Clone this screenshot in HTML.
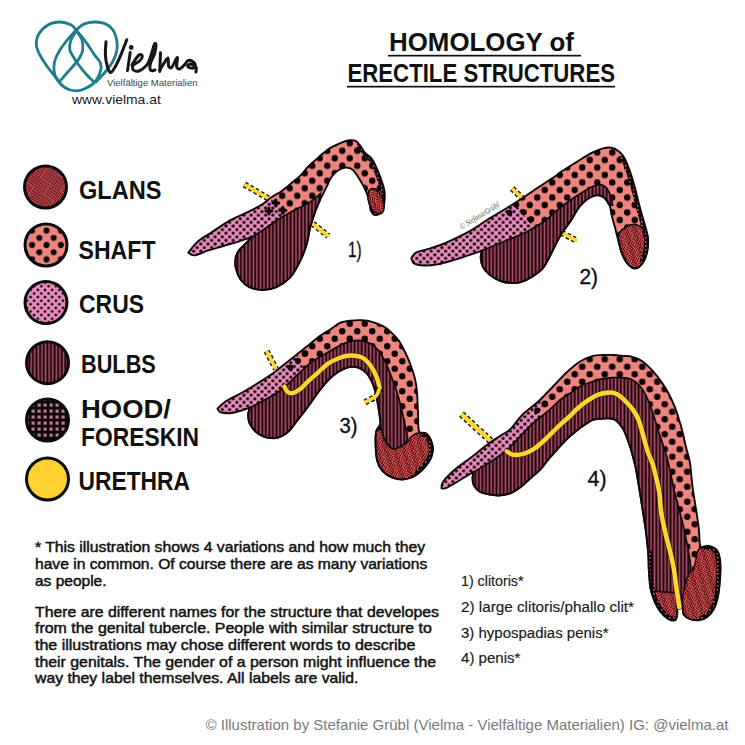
<!DOCTYPE html>
<html><head><meta charset="utf-8"><style>
html,body{margin:0;padding:0;background:#fff;overflow:hidden;}
svg{display:block;}
text{font-family:"Liberation Sans", sans-serif;}
</style></head><body>
<svg width="745" height="745" viewBox="0 0 745 745">
<rect width="745" height="745" fill="#fff"/>

<defs>
 <pattern id="pShaftL1" patternUnits="userSpaceOnUse" width="15" height="15" x="1" y="4.5">
  <rect width="15" height="15" fill="#ec8580"/>
  <circle cx="3.75" cy="3.75" r="3.2" fill="#0d0000"/>
  <circle cx="11.25" cy="11.25" r="3.2" fill="#0d0000"/>
 </pattern>
 <pattern id="pShaftL2" patternUnits="userSpaceOnUse" width="15" height="15" x="1" y="6.25">
  <rect width="15" height="15" fill="#ec8580"/>
  <circle cx="3.75" cy="3.75" r="3.2" fill="#0d0000"/>
  <circle cx="11.25" cy="11.25" r="3.2" fill="#0d0000"/>
 </pattern>
 <pattern id="pShaftL3" patternUnits="userSpaceOnUse" width="15" height="15" x="1" y="5">
  <rect width="15" height="15" fill="#ec8580"/>
  <circle cx="3.75" cy="3.75" r="3.2" fill="#0d0000"/>
  <circle cx="11.25" cy="11.25" r="3.2" fill="#0d0000"/>
 </pattern>
 <pattern id="pShaftL4" patternUnits="userSpaceOnUse" width="15" height="15" x="8.5" y="3">
  <rect width="15" height="15" fill="#ec8580"/>
  <circle cx="3.75" cy="3.75" r="3.2" fill="#0d0000"/>
  <circle cx="11.25" cy="11.25" r="3.2" fill="#0d0000"/>
 </pattern>

 <pattern id="pCrusL" patternUnits="userSpaceOnUse" width="7.2" height="7.2" x="1" y="1">
  <rect width="7.2" height="7.2" fill="#e68cc0"/>
  <circle cx="1.8" cy="1.8" r="1.65" fill="#120004"/>
  <circle cx="5.4" cy="5.4" r="1.65" fill="#120004"/>
 </pattern>
 <pattern id="pBulbL" patternUnits="userSpaceOnUse" width="3.55" height="10">
  <rect width="3.55" height="10" fill="#0e0206"/>
  <rect x="0.5" width="1.7" height="10" fill="#b34c66"/>
 </pattern>
 <pattern id="pHoodL" patternUnits="userSpaceOnUse" width="4" height="4">
  <rect width="4" height="4" fill="#140406"/>
  <rect x="1" y="1" width="1.6" height="1.6" fill="#9a7080"/>
 </pattern>
 <pattern id="pGlansL" patternUnits="userSpaceOnUse" width="12" height="12" patternTransform="rotate(30)">
  <rect width="12" height="12" fill="#e2565b"/>
  <g stroke="#3c0608" stroke-width="0.9">
   <path d="M0,0.5 H6 M0,2.5 H6 M0,4.5 H6"/>
   <path d="M6.5,0 V6 M8.5,0 V6 M10.5,0 V6"/>
   <path d="M0.5,6 V12 M2.5,6 V12 M4.5,6 V12"/>
   <path d="M6,6.5 H12 M6,8.5 H12 M6,10.5 H12"/>
  </g>
 </pattern>
 <pattern id="pShaft" patternUnits="userSpaceOnUse" width="14.4" height="14.4" x="-0.3" y="11">
  <rect width="14.4" height="14.4" fill="#ec8580"/>
  <circle cx="3.6" cy="3.6" r="3.0" fill="#0d0000"/>
  <circle cx="10.8" cy="10.8" r="3.0" fill="#0d0000"/>
 </pattern>
 <pattern id="pCrus" patternUnits="userSpaceOnUse" width="7.2" height="7.2">
  <rect width="7.2" height="7.2" fill="#e68cc0"/>
  <circle cx="1.8" cy="1.8" r="1.4" fill="#120004"/>
  <circle cx="5.4" cy="5.4" r="1.4" fill="#120004"/>
 </pattern>
 <pattern id="pBulb" patternUnits="userSpaceOnUse" width="3.6" height="10" x="1">
  <rect width="3.6" height="10" fill="#0e0206"/>
  <rect x="0.5" width="1.7" height="10" fill="#b34c66"/>
 </pattern>
 <pattern id="pHood" patternUnits="userSpaceOnUse" width="6" height="6">
  <rect width="6" height="6" fill="#140406"/>
  <rect x="1.5" y="1.5" width="3.2" height="3.2" fill="#a9808c"/>
 </pattern>
 <pattern id="pGlans" patternUnits="userSpaceOnUse" width="24" height="24" patternTransform="rotate(35) translate(3 2)">
  <rect width="24" height="24" fill="#e0535a"/>
  <g stroke="#2e0508" stroke-width="1.0" fill="none">
   <path d="M0.0,1.15 H12.0 M0.0,3.45 H12.0 M0.0,5.75 H12.0 M0.0,8.05 H12.0 M0.0,10.35 H12.0"/>
   <path d="M13.15,0.0 V12.0 M15.45,0.0 V12.0 M17.75,0.0 V12.0 M20.05,0.0 V12.0 M22.35,0.0 V12.0"/>
   <path d="M1.15,12.0 V24.0 M3.45,12.0 V24.0 M5.75,12.0 V24.0 M8.05,12.0 V24.0 M10.35,12.0 V24.0"/>
   <path d="M12.0,13.15 H24.0 M12.0,15.45 H24.0 M12.0,17.75 H24.0 M12.0,20.05 H24.0 M12.0,22.35 H24.0"/>
  </g>
 </pattern>
</defs>
<path d="M244.4,184.5 C249.0,187.2 267.4,197.8 272.0,200.5" stroke="#111" stroke-width="6.2" fill="none" stroke-dasharray="3.5 2.5"/>
<path d="M244.4,184.5 C249.0,187.2 267.4,197.8 272.0,200.5" stroke="#fcd530" stroke-width="3.6" fill="none"/>
<path d="M308.0,220.0 C311.4,222.7 324.9,233.3 328.3,236.0" stroke="#111" stroke-width="6.2" fill="none" stroke-dasharray="3.5 2.5"/>
<path d="M308.0,220.0 C311.4,222.7 324.9,233.3 328.3,236.0" stroke="#fcd530" stroke-width="3.6" fill="none"/>
<clipPath id="clip1"><path d="M188.3,252.6 C190.0,250.7 194.2,244.8 198.2,241.3 C202.2,237.9 207.0,235.4 212.3,231.9 C217.6,228.4 224.4,223.6 230.0,220.4 C235.6,217.2 240.7,215.6 246.1,212.9 C251.5,210.2 258.1,206.8 262.2,204.3 C266.3,201.8 267.5,199.9 270.7,197.7 C273.9,195.5 277.9,193.7 281.5,191.2 C285.1,188.7 289.0,185.3 292.2,182.6 C295.4,179.9 298.1,177.8 300.8,175.1 C303.5,172.4 305.2,169.6 308.3,166.5 C311.4,163.4 315.5,159.9 319.1,156.8 C322.7,153.7 326.6,150.3 330.0,148.1 C333.4,145.8 336.5,144.6 339.7,143.3 C342.9,142.0 346.7,140.7 349.3,140.3 C351.9,139.9 353.6,140.0 355.4,140.9 C357.2,141.8 358.6,143.7 360.2,145.7 C361.8,147.7 363.3,151.0 365.1,153.0 C366.9,155.0 369.3,155.6 371.1,157.8 C372.9,160.0 374.3,162.9 375.9,166.3 C377.5,169.7 379.4,174.4 380.8,178.4 C382.2,182.4 383.8,186.9 384.4,190.5 C385.0,194.1 384.8,197.1 384.6,200.0 C384.4,202.9 384.1,205.7 383.2,208.0 C382.3,210.3 380.5,212.9 379.0,214.0 C377.5,215.1 375.4,215.3 374.0,214.6 C372.6,213.9 371.2,211.6 370.5,210.0 C369.8,208.4 370.4,207.4 369.9,205.0 C369.4,202.6 368.5,198.3 367.5,195.3 C366.5,192.3 365.3,189.6 363.9,186.8 C362.5,184.0 360.8,181.2 359.0,178.4 C357.2,175.6 355.2,171.7 353.0,169.9 C350.8,168.1 348.2,167.4 345.7,167.5 C343.2,167.6 340.4,168.9 338.0,170.5 C335.6,172.1 333.4,174.3 331.5,177.0 C329.6,179.7 328.5,183.1 326.6,186.9 C324.7,190.7 321.9,196.0 320.1,199.8 C318.3,203.7 316.5,208.3 315.8,210.0 L315.8,210.0 C314.9,212.7 312.0,220.5 310.5,226.0 C309.0,231.5 308.3,238.0 307.0,243.0 C305.7,248.0 304.2,252.0 302.5,256.0 C300.8,260.0 299.1,263.4 297.0,267.0 C294.9,270.6 293.2,274.5 289.8,277.9 C286.4,281.3 280.9,285.2 276.4,287.2 C271.9,289.2 267.5,290.0 263.0,290.0 C258.5,290.0 253.2,288.9 249.5,287.2 C245.8,285.4 242.8,282.7 240.5,279.5 C238.2,276.3 236.6,271.6 235.8,268.0 C235.0,264.4 235.2,260.8 235.6,258.0 C236.0,255.2 237.1,253.2 238.5,251.0 C239.9,248.8 241.7,247.4 244.0,245.1 C246.3,242.8 251.1,238.3 252.5,237.0 L252.5,237.0 C250.5,237.6 244.4,239.6 240.7,240.8 C236.9,242.0 233.2,243.1 230.0,244.0 C226.8,244.9 225.4,245.4 221.7,246.5 C218.0,247.6 212.1,249.2 207.6,250.7 C203.1,252.2 197.6,255.1 194.4,255.4 C191.2,255.7 189.3,253.1 188.3,252.6Z"/></clipPath>
<path d="M188.3,252.6 C190.0,250.7 194.2,244.8 198.2,241.3 C202.2,237.9 207.0,235.4 212.3,231.9 C217.6,228.4 224.4,223.6 230.0,220.4 C235.6,217.2 240.7,215.6 246.1,212.9 C251.5,210.2 258.1,206.8 262.2,204.3 C266.3,201.8 267.5,199.9 270.7,197.7 C273.9,195.5 277.9,193.7 281.5,191.2 C285.1,188.7 289.0,185.3 292.2,182.6 C295.4,179.9 298.1,177.8 300.8,175.1 C303.5,172.4 305.2,169.6 308.3,166.5 C311.4,163.4 315.5,159.9 319.1,156.8 C322.7,153.7 326.6,150.3 330.0,148.1 C333.4,145.8 336.5,144.6 339.7,143.3 C342.9,142.0 346.7,140.7 349.3,140.3 C351.9,139.9 353.6,140.0 355.4,140.9 C357.2,141.8 358.6,143.7 360.2,145.7 C361.8,147.7 363.3,151.0 365.1,153.0 C366.9,155.0 369.3,155.6 371.1,157.8 C372.9,160.0 374.3,162.9 375.9,166.3 C377.5,169.7 379.4,174.4 380.8,178.4 C382.2,182.4 383.8,186.9 384.4,190.5 C385.0,194.1 384.8,197.1 384.6,200.0 C384.4,202.9 384.1,205.7 383.2,208.0 C382.3,210.3 380.5,212.9 379.0,214.0 C377.5,215.1 375.4,215.3 374.0,214.6 C372.6,213.9 371.2,211.6 370.5,210.0 C369.8,208.4 370.4,207.4 369.9,205.0 C369.4,202.6 368.5,198.3 367.5,195.3 C366.5,192.3 365.3,189.6 363.9,186.8 C362.5,184.0 360.8,181.2 359.0,178.4 C357.2,175.6 355.2,171.7 353.0,169.9 C350.8,168.1 348.2,167.4 345.7,167.5 C343.2,167.6 340.4,168.9 338.0,170.5 C335.6,172.1 333.4,174.3 331.5,177.0 C329.6,179.7 328.5,183.1 326.6,186.9 C324.7,190.7 321.9,196.0 320.1,199.8 C318.3,203.7 316.5,208.3 315.8,210.0 L315.8,210.0 C314.9,212.7 312.0,220.5 310.5,226.0 C309.0,231.5 308.3,238.0 307.0,243.0 C305.7,248.0 304.2,252.0 302.5,256.0 C300.8,260.0 299.1,263.4 297.0,267.0 C294.9,270.6 293.2,274.5 289.8,277.9 C286.4,281.3 280.9,285.2 276.4,287.2 C271.9,289.2 267.5,290.0 263.0,290.0 C258.5,290.0 253.2,288.9 249.5,287.2 C245.8,285.4 242.8,282.7 240.5,279.5 C238.2,276.3 236.6,271.6 235.8,268.0 C235.0,264.4 235.2,260.8 235.6,258.0 C236.0,255.2 237.1,253.2 238.5,251.0 C239.9,248.8 241.7,247.4 244.0,245.1 C246.3,242.8 251.1,238.3 252.5,237.0 L252.5,237.0 C250.5,237.6 244.4,239.6 240.7,240.8 C236.9,242.0 233.2,243.1 230.0,244.0 C226.8,244.9 225.4,245.4 221.7,246.5 C218.0,247.6 212.1,249.2 207.6,250.7 C203.1,252.2 197.6,255.1 194.4,255.4 C191.2,255.7 189.3,253.1 188.3,252.6Z" fill="url(#pShaftL1)"/>
<g clip-path="url(#clip1)">
<path d="M150.0,150.0 L266.0,150.0 L268.0,195.0 L287.0,218.0 L287.0,320.0 L150.0,320.0Z" fill="url(#pCrusL)"/>
<g fill="#0d0000"><circle cx="275.8" cy="203.1" r="2.6"/><circle cx="275.8" cy="200.1" r="1.5"/><circle cx="275.8" cy="206.1" r="1.5"/><circle cx="272.8" cy="203.1" r="1.5"/><circle cx="278.8" cy="203.1" r="1.5"/></g>
<g fill="#0d0000"><circle cx="268.9" cy="211" r="2.6"/><circle cx="268.9" cy="208" r="1.5"/><circle cx="268.9" cy="214" r="1.5"/><circle cx="265.9" cy="211" r="1.5"/><circle cx="271.9" cy="211" r="1.5"/></g>
<g fill="#0d0000"><circle cx="282.8" cy="210.3" r="2.6"/><circle cx="282.8" cy="207.3" r="1.5"/><circle cx="282.8" cy="213.3" r="1.5"/><circle cx="279.8" cy="210.3" r="1.5"/><circle cx="285.8" cy="210.3" r="1.5"/></g>
</g>
<path d="M252.5,237.0 C255.0,235.3 262.4,230.3 267.6,226.8 C272.8,223.3 278.3,219.3 283.7,216.1 C289.1,212.9 295.2,210.0 299.8,207.5 C304.4,205.0 308.1,203.2 311.5,200.9 C314.9,198.6 319.0,194.7 320.5,193.5 L320.1,199.8 C319.4,201.5 316.5,208.3 315.8,210.0 L310.5,226.0 C309.9,228.8 308.3,238.0 307.0,243.0 C305.7,248.0 304.2,252.0 302.5,256.0 C300.8,260.0 299.1,263.4 297.0,267.0 C294.9,270.6 293.2,274.5 289.8,277.9 C286.4,281.3 280.9,285.2 276.4,287.2 C271.9,289.2 267.5,290.0 263.0,290.0 C258.5,290.0 253.2,288.9 249.5,287.2 C245.8,285.4 242.8,282.7 240.5,279.5 C238.2,276.3 236.6,271.6 235.8,268.0 C235.0,264.4 235.2,260.8 235.6,258.0 C236.0,255.2 237.1,253.2 238.5,251.0 C239.9,248.8 241.7,247.4 244.0,245.1 C246.3,242.8 251.1,238.3 252.5,237.0Z" fill="url(#pBulbL)" stroke="#120808" stroke-width="1.7"/>
<clipPath id="hr1_0"><path d="M357.0,130.0 L400.0,130.0 L400.0,200.0 L381.0,200.0 L368.0,160.0 L357.0,148.0Z"/></clipPath>
<g clip-path="url(#clip1)"><g clip-path="url(#hr1_0)"><path d="M188.3,252.6 C190.0,250.7 194.2,244.8 198.2,241.3 C202.2,237.9 207.0,235.4 212.3,231.9 C217.6,228.4 224.4,223.6 230.0,220.4 C235.6,217.2 240.7,215.6 246.1,212.9 C251.5,210.2 258.1,206.8 262.2,204.3 C266.3,201.8 267.5,199.9 270.7,197.7 C273.9,195.5 277.9,193.7 281.5,191.2 C285.1,188.7 289.0,185.3 292.2,182.6 C295.4,179.9 298.1,177.8 300.8,175.1 C303.5,172.4 305.2,169.6 308.3,166.5 C311.4,163.4 315.5,159.9 319.1,156.8 C322.7,153.7 326.6,150.3 330.0,148.1 C333.4,145.8 336.5,144.6 339.7,143.3 C342.9,142.0 346.7,140.7 349.3,140.3 C351.9,139.9 353.6,140.0 355.4,140.9 C357.2,141.8 358.6,143.7 360.2,145.7 C361.8,147.7 363.3,151.0 365.1,153.0 C366.9,155.0 369.3,155.6 371.1,157.8 C372.9,160.0 374.3,162.9 375.9,166.3 C377.5,169.7 379.4,174.4 380.8,178.4 C382.2,182.4 383.8,186.9 384.4,190.5 C385.0,194.1 384.8,197.1 384.6,200.0 C384.4,202.9 384.1,205.7 383.2,208.0 C382.3,210.3 380.5,212.9 379.0,214.0 C377.5,215.1 375.4,215.3 374.0,214.6 C372.6,213.9 371.2,211.6 370.5,210.0 C369.8,208.4 370.4,207.4 369.9,205.0 C369.4,202.6 368.5,198.3 367.5,195.3 C366.5,192.3 365.3,189.6 363.9,186.8 C362.5,184.0 360.8,181.2 359.0,178.4 C357.2,175.6 355.2,171.7 353.0,169.9 C350.8,168.1 348.2,167.4 345.7,167.5 C343.2,167.6 340.4,168.9 338.0,170.5 C335.6,172.1 333.4,174.3 331.5,177.0 C329.6,179.7 328.5,183.1 326.6,186.9 C324.7,190.7 321.9,196.0 320.1,199.8 C318.3,203.7 316.5,208.3 315.8,210.0 L315.8,210.0 C314.9,212.7 312.0,220.5 310.5,226.0 C309.0,231.5 308.3,238.0 307.0,243.0 C305.7,248.0 304.2,252.0 302.5,256.0 C300.8,260.0 299.1,263.4 297.0,267.0 C294.9,270.6 293.2,274.5 289.8,277.9 C286.4,281.3 280.9,285.2 276.4,287.2 C271.9,289.2 267.5,290.0 263.0,290.0 C258.5,290.0 253.2,288.9 249.5,287.2 C245.8,285.4 242.8,282.7 240.5,279.5 C238.2,276.3 236.6,271.6 235.8,268.0 C235.0,264.4 235.2,260.8 235.6,258.0 C236.0,255.2 237.1,253.2 238.5,251.0 C239.9,248.8 241.7,247.4 244.0,245.1 C246.3,242.8 251.1,238.3 252.5,237.0 L252.5,237.0 C250.5,237.6 244.4,239.6 240.7,240.8 C236.9,242.0 233.2,243.1 230.0,244.0 C226.8,244.9 225.4,245.4 221.7,246.5 C218.0,247.6 212.1,249.2 207.6,250.7 C203.1,252.2 197.6,255.1 194.4,255.4 C191.2,255.7 189.3,253.1 188.3,252.6Z" stroke="url(#pHoodL)" stroke-width="8" fill="none"/></g></g>
<path d="M188.3,252.6 C190.0,250.7 194.2,244.8 198.2,241.3 C202.2,237.9 207.0,235.4 212.3,231.9 C217.6,228.4 224.4,223.6 230.0,220.4 C235.6,217.2 240.7,215.6 246.1,212.9 C251.5,210.2 258.1,206.8 262.2,204.3 C266.3,201.8 267.5,199.9 270.7,197.7 C273.9,195.5 277.9,193.7 281.5,191.2 C285.1,188.7 289.0,185.3 292.2,182.6 C295.4,179.9 298.1,177.8 300.8,175.1 C303.5,172.4 305.2,169.6 308.3,166.5 C311.4,163.4 315.5,159.9 319.1,156.8 C322.7,153.7 326.6,150.3 330.0,148.1 C333.4,145.8 336.5,144.6 339.7,143.3 C342.9,142.0 346.7,140.7 349.3,140.3 C351.9,139.9 353.6,140.0 355.4,140.9 C357.2,141.8 358.6,143.7 360.2,145.7 C361.8,147.7 363.3,151.0 365.1,153.0 C366.9,155.0 369.3,155.6 371.1,157.8 C372.9,160.0 374.3,162.9 375.9,166.3 C377.5,169.7 379.4,174.4 380.8,178.4 C382.2,182.4 383.8,186.9 384.4,190.5 C385.0,194.1 384.8,197.1 384.6,200.0 C384.4,202.9 384.1,205.7 383.2,208.0 C382.3,210.3 380.5,212.9 379.0,214.0 C377.5,215.1 375.4,215.3 374.0,214.6 C372.6,213.9 371.2,211.6 370.5,210.0 C369.8,208.4 370.4,207.4 369.9,205.0 C369.4,202.6 368.5,198.3 367.5,195.3 C366.5,192.3 365.3,189.6 363.9,186.8 C362.5,184.0 360.8,181.2 359.0,178.4 C357.2,175.6 355.2,171.7 353.0,169.9 C350.8,168.1 348.2,167.4 345.7,167.5 C343.2,167.6 340.4,168.9 338.0,170.5 C335.6,172.1 333.4,174.3 331.5,177.0 C329.6,179.7 328.5,183.1 326.6,186.9 C324.7,190.7 321.9,196.0 320.1,199.8 C318.3,203.7 316.5,208.3 315.8,210.0 L315.8,210.0 C314.9,212.7 312.0,220.5 310.5,226.0 C309.0,231.5 308.3,238.0 307.0,243.0 C305.7,248.0 304.2,252.0 302.5,256.0 C300.8,260.0 299.1,263.4 297.0,267.0 C294.9,270.6 293.2,274.5 289.8,277.9 C286.4,281.3 280.9,285.2 276.4,287.2 C271.9,289.2 267.5,290.0 263.0,290.0 C258.5,290.0 253.2,288.9 249.5,287.2 C245.8,285.4 242.8,282.7 240.5,279.5 C238.2,276.3 236.6,271.6 235.8,268.0 C235.0,264.4 235.2,260.8 235.6,258.0 C236.0,255.2 237.1,253.2 238.5,251.0 C239.9,248.8 241.7,247.4 244.0,245.1 C246.3,242.8 251.1,238.3 252.5,237.0 L252.5,237.0 C250.5,237.6 244.4,239.6 240.7,240.8 C236.9,242.0 233.2,243.1 230.0,244.0 C226.8,244.9 225.4,245.4 221.7,246.5 C218.0,247.6 212.1,249.2 207.6,250.7 C203.1,252.2 197.6,255.1 194.4,255.4 C191.2,255.7 189.3,253.1 188.3,252.6Z" fill="none" stroke="#120808" stroke-width="1.9" stroke-linejoin="round"/>
<ellipse cx="376" cy="201.3" rx="7.3" ry="13.3" transform="rotate(-20 376 201.3)" fill="url(#pGlansL)" stroke="#120808" stroke-width="1.5"/>
<path d="M512.2,188.5 C514.2,190.4 522.0,198.1 524.0,200.0" stroke="#111" stroke-width="6.2" fill="none" stroke-dasharray="3.5 2.5"/>
<path d="M512.2,188.5 C514.2,190.4 522.0,198.1 524.0,200.0" stroke="#fcd530" stroke-width="3.6" fill="none"/>
<path d="M556.0,230.0 C559.5,231.8 573.8,239.1 577.3,240.9" stroke="#111" stroke-width="6.2" fill="none" stroke-dasharray="3.5 2.5"/>
<path d="M556.0,230.0 C559.5,231.8 573.8,239.1 577.3,240.9" stroke="#fcd530" stroke-width="3.6" fill="none"/>
<clipPath id="clip2"><path d="M411.3,258.0 C412.1,257.1 413.5,254.0 416.1,252.6 C418.7,251.2 422.3,250.8 426.8,249.4 C431.3,248.0 437.6,246.2 443.0,244.0 C448.4,241.8 454.6,238.7 459.1,236.5 C463.6,234.3 466.3,233.1 469.8,231.1 C473.3,229.1 476.6,226.9 480.0,224.7 C483.4,222.5 486.1,220.4 490.0,218.0 C493.9,215.6 498.1,213.4 503.6,210.0 C509.1,206.6 517.1,201.5 523.0,197.7 C528.9,193.8 533.7,190.5 539.1,186.9 C544.5,183.3 551.7,178.6 555.2,176.2 C558.7,173.8 556.5,174.8 560.0,172.5 C563.5,170.2 570.7,165.5 576.1,162.2 C581.5,158.9 587.7,154.9 592.2,152.6 C596.7,150.3 599.8,149.1 603.0,148.3 C606.2,147.5 608.8,147.2 611.5,147.7 C614.2,148.2 616.9,149.8 619.0,151.5 C621.1,153.2 622.6,154.7 624.4,157.9 C626.2,161.1 628.0,165.8 629.8,170.8 C631.6,175.8 633.5,182.8 635.0,188.0 C636.5,193.2 637.3,197.5 638.5,202.0 C639.7,206.5 640.8,210.8 642.0,215.0 C643.2,219.2 644.5,223.1 645.5,227.0 C646.5,230.9 647.7,234.7 648.0,238.5 C648.3,242.3 648.1,246.3 647.5,250.0 C646.9,253.7 645.7,257.6 644.2,260.5 C642.7,263.4 640.7,266.1 638.7,267.3 C636.7,268.5 634.4,268.8 632.2,267.8 C630.1,266.8 627.6,264.1 625.8,261.5 C624.0,258.9 622.8,255.8 621.5,252.3 C620.2,248.8 619.4,244.6 618.3,240.5 C617.2,236.4 616.1,231.9 615.0,227.6 C613.9,223.3 612.4,218.2 611.5,214.5 C610.6,210.8 610.8,208.0 609.5,205.2 C608.2,202.4 606.1,199.2 604.0,197.5 C601.9,195.8 599.3,195.2 597.0,195.2 C594.7,195.2 592.2,196.4 590.0,197.5 C587.8,198.6 585.9,200.2 584.0,202.0 C582.1,203.8 580.7,204.9 578.5,208.0 C576.3,211.1 573.5,216.7 570.8,220.8 C568.1,224.9 564.7,228.7 562.2,232.6 C559.7,236.5 557.9,240.3 555.8,244.4 C553.7,248.5 551.6,253.1 549.5,257.0 C547.4,260.9 545.9,264.7 543.0,268.0 C540.1,271.3 535.9,274.3 532.3,276.6 C528.7,278.9 525.1,280.8 521.5,281.9 C517.9,283.0 514.4,283.2 510.8,283.0 C507.2,282.8 503.7,282.3 500.1,280.9 C496.5,279.5 492.2,276.7 489.3,274.4 C486.4,272.1 484.3,269.6 482.9,266.9 C481.5,264.2 480.9,261.0 480.7,258.3 C480.5,255.6 481.6,252.1 481.8,250.8 L481.8,250.8 C479.8,251.5 474.5,253.2 469.8,254.8 C465.1,256.4 459.1,258.5 453.7,260.1 C448.3,261.7 442.6,263.5 437.6,264.4 C432.6,265.3 427.5,265.7 423.6,265.5 C419.7,265.3 416.1,264.6 414.0,263.4 C411.9,262.1 411.8,258.9 411.3,258.0Z"/></clipPath>
<path d="M411.3,258.0 C412.1,257.1 413.5,254.0 416.1,252.6 C418.7,251.2 422.3,250.8 426.8,249.4 C431.3,248.0 437.6,246.2 443.0,244.0 C448.4,241.8 454.6,238.7 459.1,236.5 C463.6,234.3 466.3,233.1 469.8,231.1 C473.3,229.1 476.6,226.9 480.0,224.7 C483.4,222.5 486.1,220.4 490.0,218.0 C493.9,215.6 498.1,213.4 503.6,210.0 C509.1,206.6 517.1,201.5 523.0,197.7 C528.9,193.8 533.7,190.5 539.1,186.9 C544.5,183.3 551.7,178.6 555.2,176.2 C558.7,173.8 556.5,174.8 560.0,172.5 C563.5,170.2 570.7,165.5 576.1,162.2 C581.5,158.9 587.7,154.9 592.2,152.6 C596.7,150.3 599.8,149.1 603.0,148.3 C606.2,147.5 608.8,147.2 611.5,147.7 C614.2,148.2 616.9,149.8 619.0,151.5 C621.1,153.2 622.6,154.7 624.4,157.9 C626.2,161.1 628.0,165.8 629.8,170.8 C631.6,175.8 633.5,182.8 635.0,188.0 C636.5,193.2 637.3,197.5 638.5,202.0 C639.7,206.5 640.8,210.8 642.0,215.0 C643.2,219.2 644.5,223.1 645.5,227.0 C646.5,230.9 647.7,234.7 648.0,238.5 C648.3,242.3 648.1,246.3 647.5,250.0 C646.9,253.7 645.7,257.6 644.2,260.5 C642.7,263.4 640.7,266.1 638.7,267.3 C636.7,268.5 634.4,268.8 632.2,267.8 C630.1,266.8 627.6,264.1 625.8,261.5 C624.0,258.9 622.8,255.8 621.5,252.3 C620.2,248.8 619.4,244.6 618.3,240.5 C617.2,236.4 616.1,231.9 615.0,227.6 C613.9,223.3 612.4,218.2 611.5,214.5 C610.6,210.8 610.8,208.0 609.5,205.2 C608.2,202.4 606.1,199.2 604.0,197.5 C601.9,195.8 599.3,195.2 597.0,195.2 C594.7,195.2 592.2,196.4 590.0,197.5 C587.8,198.6 585.9,200.2 584.0,202.0 C582.1,203.8 580.7,204.9 578.5,208.0 C576.3,211.1 573.5,216.7 570.8,220.8 C568.1,224.9 564.7,228.7 562.2,232.6 C559.7,236.5 557.9,240.3 555.8,244.4 C553.7,248.5 551.6,253.1 549.5,257.0 C547.4,260.9 545.9,264.7 543.0,268.0 C540.1,271.3 535.9,274.3 532.3,276.6 C528.7,278.9 525.1,280.8 521.5,281.9 C517.9,283.0 514.4,283.2 510.8,283.0 C507.2,282.8 503.7,282.3 500.1,280.9 C496.5,279.5 492.2,276.7 489.3,274.4 C486.4,272.1 484.3,269.6 482.9,266.9 C481.5,264.2 480.9,261.0 480.7,258.3 C480.5,255.6 481.6,252.1 481.8,250.8 L481.8,250.8 C479.8,251.5 474.5,253.2 469.8,254.8 C465.1,256.4 459.1,258.5 453.7,260.1 C448.3,261.7 442.6,263.5 437.6,264.4 C432.6,265.3 427.5,265.7 423.6,265.5 C419.7,265.3 416.1,264.6 414.0,263.4 C411.9,262.1 411.8,258.9 411.3,258.0Z" fill="url(#pShaftL2)"/>
<g clip-path="url(#clip2)">
<path d="M380.0,150.0 L500.0,150.0 L508.0,193.0 L515.0,203.0 L533.0,228.0 L540.0,300.0 L380.0,300.0Z" fill="url(#pCrusL)"/>
<circle cx="516.3" cy="204.7" r="3" fill="#0d0000"/>
<circle cx="509.3" cy="212.7" r="3" fill="#0d0000"/>
<circle cx="523.8" cy="212.2" r="3" fill="#0d0000"/>
<circle cx="531.3" cy="219.2" r="3" fill="#0d0000"/>
</g>
<path d="M481.8,250.8 C484.3,249.7 491.6,246.6 496.8,244.4 C502.0,242.2 507.6,240.2 513.0,237.9 C518.4,235.6 523.7,233.3 529.1,230.4 C534.5,227.5 539.9,224.4 545.2,220.5 C550.5,216.6 555.9,211.0 561.0,207.0 C566.1,203.0 570.9,199.7 576.1,196.3 C581.3,192.9 588.4,188.6 592.2,186.7 C596.0,184.8 596.6,184.6 598.7,184.6 C600.9,184.6 603.1,184.9 605.1,186.7 C607.1,188.5 609.2,192.4 610.5,195.5 C611.8,198.6 612.2,203.6 612.6,205.2 L609.5,205.2 C608.6,203.9 606.1,199.2 604.0,197.5 C601.9,195.8 599.3,195.2 597.0,195.2 C594.7,195.2 592.2,196.4 590.0,197.5 C587.8,198.6 585.9,200.2 584.0,202.0 C582.1,203.8 580.7,204.9 578.5,208.0 C576.3,211.1 573.5,216.7 570.8,220.8 C568.1,224.9 564.7,228.7 562.2,232.6 C559.7,236.5 557.9,240.3 555.8,244.4 C553.7,248.5 551.6,253.1 549.5,257.0 C547.4,260.9 545.9,264.7 543.0,268.0 C540.1,271.3 535.9,274.3 532.3,276.6 C528.7,278.9 525.1,280.8 521.5,281.9 C517.9,283.0 514.4,283.2 510.8,283.0 C507.2,282.8 503.7,282.3 500.1,280.9 C496.5,279.5 492.2,276.7 489.3,274.4 C486.4,272.1 484.3,269.6 482.9,266.9 C481.5,264.2 480.9,261.0 480.7,258.3 C480.5,255.6 481.6,252.1 481.8,250.8Z" fill="url(#pBulbL)" stroke="#120808" stroke-width="1.7"/>
<path d="M618.3,240.5 C618.5,239.2 617.9,235.3 619.3,233.0 C620.7,230.7 624.1,227.9 626.8,226.5 C629.5,225.1 632.7,224.0 635.4,224.4 C638.1,224.8 641.0,226.9 643.0,228.7 C645.0,230.5 646.4,233.5 647.2,235.1 C648.0,236.7 648.0,236.0 648.0,238.5 C648.0,241.0 648.1,246.3 647.5,250.0 C646.9,253.7 645.7,257.6 644.2,260.5 C642.7,263.4 640.7,266.1 638.7,267.3 C636.7,268.5 634.4,268.8 632.2,267.8 C630.1,266.8 627.6,264.1 625.8,261.5 C624.0,258.9 622.8,255.8 621.5,252.3 C620.2,248.8 618.8,242.5 618.3,240.5Z" fill="url(#pGlansL)" stroke="#120808" stroke-width="1.5"/>
<clipPath id="hr2_0"><path d="M615.0,156.0 L670.0,156.0 L670.0,262.0 L640.0,262.0 L636.0,225.0 L624.0,175.0 L615.0,165.0Z"/></clipPath>
<g clip-path="url(#clip2)"><g clip-path="url(#hr2_0)"><path d="M411.3,258.0 C412.1,257.1 413.5,254.0 416.1,252.6 C418.7,251.2 422.3,250.8 426.8,249.4 C431.3,248.0 437.6,246.2 443.0,244.0 C448.4,241.8 454.6,238.7 459.1,236.5 C463.6,234.3 466.3,233.1 469.8,231.1 C473.3,229.1 476.6,226.9 480.0,224.7 C483.4,222.5 486.1,220.4 490.0,218.0 C493.9,215.6 498.1,213.4 503.6,210.0 C509.1,206.6 517.1,201.5 523.0,197.7 C528.9,193.8 533.7,190.5 539.1,186.9 C544.5,183.3 551.7,178.6 555.2,176.2 C558.7,173.8 556.5,174.8 560.0,172.5 C563.5,170.2 570.7,165.5 576.1,162.2 C581.5,158.9 587.7,154.9 592.2,152.6 C596.7,150.3 599.8,149.1 603.0,148.3 C606.2,147.5 608.8,147.2 611.5,147.7 C614.2,148.2 616.9,149.8 619.0,151.5 C621.1,153.2 622.6,154.7 624.4,157.9 C626.2,161.1 628.0,165.8 629.8,170.8 C631.6,175.8 633.5,182.8 635.0,188.0 C636.5,193.2 637.3,197.5 638.5,202.0 C639.7,206.5 640.8,210.8 642.0,215.0 C643.2,219.2 644.5,223.1 645.5,227.0 C646.5,230.9 647.7,234.7 648.0,238.5 C648.3,242.3 648.1,246.3 647.5,250.0 C646.9,253.7 645.7,257.6 644.2,260.5 C642.7,263.4 640.7,266.1 638.7,267.3 C636.7,268.5 634.4,268.8 632.2,267.8 C630.1,266.8 627.6,264.1 625.8,261.5 C624.0,258.9 622.8,255.8 621.5,252.3 C620.2,248.8 619.4,244.6 618.3,240.5 C617.2,236.4 616.1,231.9 615.0,227.6 C613.9,223.3 612.4,218.2 611.5,214.5 C610.6,210.8 610.8,208.0 609.5,205.2 C608.2,202.4 606.1,199.2 604.0,197.5 C601.9,195.8 599.3,195.2 597.0,195.2 C594.7,195.2 592.2,196.4 590.0,197.5 C587.8,198.6 585.9,200.2 584.0,202.0 C582.1,203.8 580.7,204.9 578.5,208.0 C576.3,211.1 573.5,216.7 570.8,220.8 C568.1,224.9 564.7,228.7 562.2,232.6 C559.7,236.5 557.9,240.3 555.8,244.4 C553.7,248.5 551.6,253.1 549.5,257.0 C547.4,260.9 545.9,264.7 543.0,268.0 C540.1,271.3 535.9,274.3 532.3,276.6 C528.7,278.9 525.1,280.8 521.5,281.9 C517.9,283.0 514.4,283.2 510.8,283.0 C507.2,282.8 503.7,282.3 500.1,280.9 C496.5,279.5 492.2,276.7 489.3,274.4 C486.4,272.1 484.3,269.6 482.9,266.9 C481.5,264.2 480.9,261.0 480.7,258.3 C480.5,255.6 481.6,252.1 481.8,250.8 L481.8,250.8 C479.8,251.5 474.5,253.2 469.8,254.8 C465.1,256.4 459.1,258.5 453.7,260.1 C448.3,261.7 442.6,263.5 437.6,264.4 C432.6,265.3 427.5,265.7 423.6,265.5 C419.7,265.3 416.1,264.6 414.0,263.4 C411.9,262.1 411.8,258.9 411.3,258.0Z" stroke="url(#pHoodL)" stroke-width="8" fill="none"/></g></g>
<path d="M411.3,258.0 C412.1,257.1 413.5,254.0 416.1,252.6 C418.7,251.2 422.3,250.8 426.8,249.4 C431.3,248.0 437.6,246.2 443.0,244.0 C448.4,241.8 454.6,238.7 459.1,236.5 C463.6,234.3 466.3,233.1 469.8,231.1 C473.3,229.1 476.6,226.9 480.0,224.7 C483.4,222.5 486.1,220.4 490.0,218.0 C493.9,215.6 498.1,213.4 503.6,210.0 C509.1,206.6 517.1,201.5 523.0,197.7 C528.9,193.8 533.7,190.5 539.1,186.9 C544.5,183.3 551.7,178.6 555.2,176.2 C558.7,173.8 556.5,174.8 560.0,172.5 C563.5,170.2 570.7,165.5 576.1,162.2 C581.5,158.9 587.7,154.9 592.2,152.6 C596.7,150.3 599.8,149.1 603.0,148.3 C606.2,147.5 608.8,147.2 611.5,147.7 C614.2,148.2 616.9,149.8 619.0,151.5 C621.1,153.2 622.6,154.7 624.4,157.9 C626.2,161.1 628.0,165.8 629.8,170.8 C631.6,175.8 633.5,182.8 635.0,188.0 C636.5,193.2 637.3,197.5 638.5,202.0 C639.7,206.5 640.8,210.8 642.0,215.0 C643.2,219.2 644.5,223.1 645.5,227.0 C646.5,230.9 647.7,234.7 648.0,238.5 C648.3,242.3 648.1,246.3 647.5,250.0 C646.9,253.7 645.7,257.6 644.2,260.5 C642.7,263.4 640.7,266.1 638.7,267.3 C636.7,268.5 634.4,268.8 632.2,267.8 C630.1,266.8 627.6,264.1 625.8,261.5 C624.0,258.9 622.8,255.8 621.5,252.3 C620.2,248.8 619.4,244.6 618.3,240.5 C617.2,236.4 616.1,231.9 615.0,227.6 C613.9,223.3 612.4,218.2 611.5,214.5 C610.6,210.8 610.8,208.0 609.5,205.2 C608.2,202.4 606.1,199.2 604.0,197.5 C601.9,195.8 599.3,195.2 597.0,195.2 C594.7,195.2 592.2,196.4 590.0,197.5 C587.8,198.6 585.9,200.2 584.0,202.0 C582.1,203.8 580.7,204.9 578.5,208.0 C576.3,211.1 573.5,216.7 570.8,220.8 C568.1,224.9 564.7,228.7 562.2,232.6 C559.7,236.5 557.9,240.3 555.8,244.4 C553.7,248.5 551.6,253.1 549.5,257.0 C547.4,260.9 545.9,264.7 543.0,268.0 C540.1,271.3 535.9,274.3 532.3,276.6 C528.7,278.9 525.1,280.8 521.5,281.9 C517.9,283.0 514.4,283.2 510.8,283.0 C507.2,282.8 503.7,282.3 500.1,280.9 C496.5,279.5 492.2,276.7 489.3,274.4 C486.4,272.1 484.3,269.6 482.9,266.9 C481.5,264.2 480.9,261.0 480.7,258.3 C480.5,255.6 481.6,252.1 481.8,250.8 L481.8,250.8 C479.8,251.5 474.5,253.2 469.8,254.8 C465.1,256.4 459.1,258.5 453.7,260.1 C448.3,261.7 442.6,263.5 437.6,264.4 C432.6,265.3 427.5,265.7 423.6,265.5 C419.7,265.3 416.1,264.6 414.0,263.4 C411.9,262.1 411.8,258.9 411.3,258.0Z" fill="none" stroke="#120808" stroke-width="1.9" stroke-linejoin="round"/>
<path d="M266.6,351.1 C268.2,354.1 274.4,366.0 276.0,369.0" stroke="#111" stroke-width="6.2" fill="none" stroke-dasharray="3.5 2.5"/>
<path d="M266.6,351.1 C268.2,354.1 274.4,366.0 276.0,369.0" stroke="#fcd530" stroke-width="3.6" fill="none"/>
<clipPath id="clip3"><path d="M217.5,408.7 C218.9,407.4 222.0,403.8 226.1,401.1 C230.2,398.4 236.8,395.5 242.2,392.5 C247.6,389.5 253.0,386.2 258.3,382.9 C263.6,379.6 268.2,376.7 274.0,372.5 C279.8,368.3 287.1,362.2 293.0,357.6 C298.9,353.0 304.6,348.3 309.1,344.7 C313.6,341.1 316.3,338.6 319.8,336.1 C323.3,333.6 326.6,331.9 330.0,329.7 C333.4,327.5 336.6,324.4 340.0,322.9 C343.4,321.4 347.1,321.1 350.7,320.7 C354.3,320.2 357.9,320.0 361.5,320.2 C365.1,320.4 368.6,320.8 372.2,321.8 C375.8,322.8 379.8,324.3 383.0,326.1 C386.2,327.9 388.8,330.1 391.5,332.6 C394.2,335.1 396.8,337.7 399.1,341.1 C401.4,344.5 403.5,348.9 405.5,353.0 C407.5,357.1 409.3,361.3 410.9,365.8 C412.5,370.3 414.2,375.4 415.2,379.8 C416.2,384.2 416.5,386.6 417.0,392.0 C417.5,397.4 417.6,405.6 418.0,412.2 C418.4,418.8 417.7,427.9 419.1,431.5 C420.5,435.1 424.6,432.3 426.6,433.7 C428.6,435.1 429.8,437.6 430.9,440.1 C432.0,442.6 432.9,445.9 433.0,448.7 C433.1,451.5 432.1,454.8 431.4,457.0 C430.7,459.2 430.2,459.8 428.7,462.0 C427.2,464.2 424.8,467.6 422.3,470.0 C419.8,472.4 416.9,474.9 413.7,476.5 C410.5,478.1 406.6,479.3 403.0,479.5 C399.4,479.7 395.6,478.9 392.2,477.5 C388.8,476.1 385.0,473.8 382.5,471.0 C380.0,468.2 378.3,465.0 377.2,461.0 C376.1,457.0 375.8,451.9 375.6,447.0 C375.4,442.1 375.3,435.5 376.1,431.5 C376.9,427.5 380.0,427.1 380.4,423.0 C380.8,418.9 379.2,412.1 378.3,406.8 C377.4,401.5 376.3,395.3 375.2,391.0 C374.1,386.7 372.9,383.9 371.5,381.0 C370.1,378.1 368.8,375.6 366.8,373.4 C364.8,371.2 362.0,369.1 359.3,368.0 C356.6,366.9 353.4,366.7 350.7,366.9 C348.0,367.1 345.9,367.9 343.0,369.3 C340.1,370.7 336.2,373.1 333.3,375.4 C330.4,377.7 328.5,379.8 325.8,382.9 C323.1,385.9 320.4,389.4 317.2,393.7 C314.0,398.0 309.9,404.1 306.5,408.7 C303.1,413.2 299.9,417.3 297.0,421.0 C294.1,424.7 291.5,428.5 289.0,431.0 C286.5,433.5 284.4,434.8 282.0,436.0 C279.6,437.2 277.4,438.1 274.4,438.2 C271.3,438.3 266.9,437.8 263.7,436.6 C260.5,435.4 257.4,433.4 255.1,431.2 C252.8,429.0 250.9,426.4 249.7,423.7 C248.5,421.0 248.1,417.8 248.1,415.1 C248.1,412.4 249.4,408.9 249.7,407.6 L249.7,407.6 C248.4,408.1 245.2,409.4 242.2,410.3 C239.2,411.2 235.1,412.6 231.5,413.0 C227.9,413.4 223.0,413.1 220.7,412.4 C218.4,411.7 218.0,409.3 217.5,408.7Z"/></clipPath>
<path d="M217.5,408.7 C218.9,407.4 222.0,403.8 226.1,401.1 C230.2,398.4 236.8,395.5 242.2,392.5 C247.6,389.5 253.0,386.2 258.3,382.9 C263.6,379.6 268.2,376.7 274.0,372.5 C279.8,368.3 287.1,362.2 293.0,357.6 C298.9,353.0 304.6,348.3 309.1,344.7 C313.6,341.1 316.3,338.6 319.8,336.1 C323.3,333.6 326.6,331.9 330.0,329.7 C333.4,327.5 336.6,324.4 340.0,322.9 C343.4,321.4 347.1,321.1 350.7,320.7 C354.3,320.2 357.9,320.0 361.5,320.2 C365.1,320.4 368.6,320.8 372.2,321.8 C375.8,322.8 379.8,324.3 383.0,326.1 C386.2,327.9 388.8,330.1 391.5,332.6 C394.2,335.1 396.8,337.7 399.1,341.1 C401.4,344.5 403.5,348.9 405.5,353.0 C407.5,357.1 409.3,361.3 410.9,365.8 C412.5,370.3 414.2,375.4 415.2,379.8 C416.2,384.2 416.5,386.6 417.0,392.0 C417.5,397.4 417.6,405.6 418.0,412.2 C418.4,418.8 417.7,427.9 419.1,431.5 C420.5,435.1 424.6,432.3 426.6,433.7 C428.6,435.1 429.8,437.6 430.9,440.1 C432.0,442.6 432.9,445.9 433.0,448.7 C433.1,451.5 432.1,454.8 431.4,457.0 C430.7,459.2 430.2,459.8 428.7,462.0 C427.2,464.2 424.8,467.6 422.3,470.0 C419.8,472.4 416.9,474.9 413.7,476.5 C410.5,478.1 406.6,479.3 403.0,479.5 C399.4,479.7 395.6,478.9 392.2,477.5 C388.8,476.1 385.0,473.8 382.5,471.0 C380.0,468.2 378.3,465.0 377.2,461.0 C376.1,457.0 375.8,451.9 375.6,447.0 C375.4,442.1 375.3,435.5 376.1,431.5 C376.9,427.5 380.0,427.1 380.4,423.0 C380.8,418.9 379.2,412.1 378.3,406.8 C377.4,401.5 376.3,395.3 375.2,391.0 C374.1,386.7 372.9,383.9 371.5,381.0 C370.1,378.1 368.8,375.6 366.8,373.4 C364.8,371.2 362.0,369.1 359.3,368.0 C356.6,366.9 353.4,366.7 350.7,366.9 C348.0,367.1 345.9,367.9 343.0,369.3 C340.1,370.7 336.2,373.1 333.3,375.4 C330.4,377.7 328.5,379.8 325.8,382.9 C323.1,385.9 320.4,389.4 317.2,393.7 C314.0,398.0 309.9,404.1 306.5,408.7 C303.1,413.2 299.9,417.3 297.0,421.0 C294.1,424.7 291.5,428.5 289.0,431.0 C286.5,433.5 284.4,434.8 282.0,436.0 C279.6,437.2 277.4,438.1 274.4,438.2 C271.3,438.3 266.9,437.8 263.7,436.6 C260.5,435.4 257.4,433.4 255.1,431.2 C252.8,429.0 250.9,426.4 249.7,423.7 C248.5,421.0 248.1,417.8 248.1,415.1 C248.1,412.4 249.4,408.9 249.7,407.6 L249.7,407.6 C248.4,408.1 245.2,409.4 242.2,410.3 C239.2,411.2 235.1,412.6 231.5,413.0 C227.9,413.4 223.0,413.1 220.7,412.4 C218.4,411.7 218.0,409.3 217.5,408.7Z" fill="url(#pShaftL3)"/>
<g clip-path="url(#clip3)">
<path d="M180.0,300.0 L290.0,300.0 L296.0,352.0 L305.0,372.0 L290.0,460.0 L180.0,460.0Z" fill="url(#pCrusL)"/>
<circle cx="305.4" cy="353.2" r="3" fill="#0d0000"/>
<circle cx="297.9" cy="361" r="3" fill="#0d0000"/>
<circle cx="290.4" cy="367.4" r="3" fill="#0d0000"/>
</g>
<path d="M249.7,407.6 C252.2,406.3 259.3,402.9 264.5,400.0 C269.7,397.1 275.4,394.3 281.0,390.0 C286.6,385.7 293.0,378.8 298.3,374.0 C303.6,369.2 307.7,364.8 313.0,361.0 C318.3,357.2 325.5,353.6 330.0,351.0 C334.5,348.4 336.6,347.1 340.0,345.5 C343.4,343.9 347.1,341.9 350.7,341.1 C354.3,340.3 357.9,340.1 361.5,340.6 C365.1,341.2 369.3,342.7 372.2,344.4 C375.1,346.1 376.7,348.3 378.7,350.8 C380.7,353.3 382.3,356.2 384.0,359.4 C385.7,362.6 387.3,366.5 388.8,370.1 C390.3,373.7 391.7,377.6 393.0,381.0 C394.3,384.4 395.2,386.2 396.5,390.5 C397.8,394.8 399.7,401.4 401.0,406.8 C402.3,412.2 403.4,417.6 404.5,423.0 C405.6,428.4 408.1,435.2 407.5,439.1 C406.9,443.0 403.4,445.0 400.8,446.6 C398.2,448.2 394.9,449.8 392.2,448.7 C389.5,447.6 386.6,442.9 384.7,440.1 C382.8,437.3 381.6,433.4 381.0,432.0 L380.4,423.0 C380.0,420.3 379.2,412.1 378.3,406.8 C377.4,401.5 376.3,395.3 375.2,391.0 C374.1,386.7 372.9,383.9 371.5,381.0 C370.1,378.1 368.8,375.6 366.8,373.4 C364.8,371.2 362.0,369.1 359.3,368.0 C356.6,366.9 353.4,366.7 350.7,366.9 C348.0,367.1 345.9,367.9 343.0,369.3 C340.1,370.7 336.2,373.1 333.3,375.4 C330.4,377.7 328.5,379.8 325.8,382.9 C323.1,385.9 320.4,389.4 317.2,393.7 C314.0,398.0 309.9,404.1 306.5,408.7 C303.1,413.2 299.9,417.3 297.0,421.0 C294.1,424.7 291.5,428.5 289.0,431.0 C286.5,433.5 284.4,434.8 282.0,436.0 C279.6,437.2 277.4,438.1 274.4,438.2 C271.3,438.3 266.9,437.8 263.7,436.6 C260.5,435.4 257.4,433.4 255.1,431.2 C252.8,429.0 250.9,426.4 249.7,423.7 C248.5,421.0 248.1,417.8 248.1,415.1 C248.1,412.4 249.4,408.9 249.7,407.6Z" fill="url(#pBulbL)" stroke="#120808" stroke-width="1.7"/>
<path d="M375.6,447.0 C375.7,444.4 375.1,434.2 376.1,431.5 C377.1,428.8 380.1,429.1 381.5,430.5 C382.9,431.9 382.9,437.1 384.7,440.1 C386.5,443.1 389.5,447.6 392.2,448.7 C394.9,449.8 398.3,447.7 400.8,446.6 C403.3,445.5 405.3,444.1 407.2,442.3 C409.1,440.5 409.9,437.6 412.0,436.0 C414.1,434.4 417.7,433.0 420.1,432.6 C422.5,432.2 424.8,432.4 426.6,433.7 C428.4,434.9 429.8,437.6 430.9,440.1 C432.0,442.6 432.9,445.9 433.0,448.7 C433.1,451.5 432.1,454.8 431.4,457.0 C430.7,459.2 430.2,459.8 428.7,462.0 C427.2,464.2 424.8,467.6 422.3,470.0 C419.8,472.4 416.9,474.9 413.7,476.5 C410.5,478.1 406.6,479.3 403.0,479.5 C399.4,479.7 395.6,478.9 392.2,477.5 C388.8,476.1 385.0,473.8 382.5,471.0 C380.0,468.2 378.3,465.0 377.2,461.0 C376.1,457.0 375.9,449.3 375.6,447.0Z" fill="url(#pGlansL)" stroke="#120808" stroke-width="1.5"/>
<clipPath id="hr3_0"><path d="M418.0,425.0 L445.0,425.0 L445.0,480.0 L410.0,480.0 L425.0,455.0Z"/></clipPath>
<g clip-path="url(#clip3)"><g clip-path="url(#hr3_0)"><path d="M217.5,408.7 C218.9,407.4 222.0,403.8 226.1,401.1 C230.2,398.4 236.8,395.5 242.2,392.5 C247.6,389.5 253.0,386.2 258.3,382.9 C263.6,379.6 268.2,376.7 274.0,372.5 C279.8,368.3 287.1,362.2 293.0,357.6 C298.9,353.0 304.6,348.3 309.1,344.7 C313.6,341.1 316.3,338.6 319.8,336.1 C323.3,333.6 326.6,331.9 330.0,329.7 C333.4,327.5 336.6,324.4 340.0,322.9 C343.4,321.4 347.1,321.1 350.7,320.7 C354.3,320.2 357.9,320.0 361.5,320.2 C365.1,320.4 368.6,320.8 372.2,321.8 C375.8,322.8 379.8,324.3 383.0,326.1 C386.2,327.9 388.8,330.1 391.5,332.6 C394.2,335.1 396.8,337.7 399.1,341.1 C401.4,344.5 403.5,348.9 405.5,353.0 C407.5,357.1 409.3,361.3 410.9,365.8 C412.5,370.3 414.2,375.4 415.2,379.8 C416.2,384.2 416.5,386.6 417.0,392.0 C417.5,397.4 417.6,405.6 418.0,412.2 C418.4,418.8 417.7,427.9 419.1,431.5 C420.5,435.1 424.6,432.3 426.6,433.7 C428.6,435.1 429.8,437.6 430.9,440.1 C432.0,442.6 432.9,445.9 433.0,448.7 C433.1,451.5 432.1,454.8 431.4,457.0 C430.7,459.2 430.2,459.8 428.7,462.0 C427.2,464.2 424.8,467.6 422.3,470.0 C419.8,472.4 416.9,474.9 413.7,476.5 C410.5,478.1 406.6,479.3 403.0,479.5 C399.4,479.7 395.6,478.9 392.2,477.5 C388.8,476.1 385.0,473.8 382.5,471.0 C380.0,468.2 378.3,465.0 377.2,461.0 C376.1,457.0 375.8,451.9 375.6,447.0 C375.4,442.1 375.3,435.5 376.1,431.5 C376.9,427.5 380.0,427.1 380.4,423.0 C380.8,418.9 379.2,412.1 378.3,406.8 C377.4,401.5 376.3,395.3 375.2,391.0 C374.1,386.7 372.9,383.9 371.5,381.0 C370.1,378.1 368.8,375.6 366.8,373.4 C364.8,371.2 362.0,369.1 359.3,368.0 C356.6,366.9 353.4,366.7 350.7,366.9 C348.0,367.1 345.9,367.9 343.0,369.3 C340.1,370.7 336.2,373.1 333.3,375.4 C330.4,377.7 328.5,379.8 325.8,382.9 C323.1,385.9 320.4,389.4 317.2,393.7 C314.0,398.0 309.9,404.1 306.5,408.7 C303.1,413.2 299.9,417.3 297.0,421.0 C294.1,424.7 291.5,428.5 289.0,431.0 C286.5,433.5 284.4,434.8 282.0,436.0 C279.6,437.2 277.4,438.1 274.4,438.2 C271.3,438.3 266.9,437.8 263.7,436.6 C260.5,435.4 257.4,433.4 255.1,431.2 C252.8,429.0 250.9,426.4 249.7,423.7 C248.5,421.0 248.1,417.8 248.1,415.1 C248.1,412.4 249.4,408.9 249.7,407.6 L249.7,407.6 C248.4,408.1 245.2,409.4 242.2,410.3 C239.2,411.2 235.1,412.6 231.5,413.0 C227.9,413.4 223.0,413.1 220.7,412.4 C218.4,411.7 218.0,409.3 217.5,408.7Z" stroke="url(#pHoodL)" stroke-width="8" fill="none"/></g></g>
<path d="M217.5,408.7 C218.9,407.4 222.0,403.8 226.1,401.1 C230.2,398.4 236.8,395.5 242.2,392.5 C247.6,389.5 253.0,386.2 258.3,382.9 C263.6,379.6 268.2,376.7 274.0,372.5 C279.8,368.3 287.1,362.2 293.0,357.6 C298.9,353.0 304.6,348.3 309.1,344.7 C313.6,341.1 316.3,338.6 319.8,336.1 C323.3,333.6 326.6,331.9 330.0,329.7 C333.4,327.5 336.6,324.4 340.0,322.9 C343.4,321.4 347.1,321.1 350.7,320.7 C354.3,320.2 357.9,320.0 361.5,320.2 C365.1,320.4 368.6,320.8 372.2,321.8 C375.8,322.8 379.8,324.3 383.0,326.1 C386.2,327.9 388.8,330.1 391.5,332.6 C394.2,335.1 396.8,337.7 399.1,341.1 C401.4,344.5 403.5,348.9 405.5,353.0 C407.5,357.1 409.3,361.3 410.9,365.8 C412.5,370.3 414.2,375.4 415.2,379.8 C416.2,384.2 416.5,386.6 417.0,392.0 C417.5,397.4 417.6,405.6 418.0,412.2 C418.4,418.8 417.7,427.9 419.1,431.5 C420.5,435.1 424.6,432.3 426.6,433.7 C428.6,435.1 429.8,437.6 430.9,440.1 C432.0,442.6 432.9,445.9 433.0,448.7 C433.1,451.5 432.1,454.8 431.4,457.0 C430.7,459.2 430.2,459.8 428.7,462.0 C427.2,464.2 424.8,467.6 422.3,470.0 C419.8,472.4 416.9,474.9 413.7,476.5 C410.5,478.1 406.6,479.3 403.0,479.5 C399.4,479.7 395.6,478.9 392.2,477.5 C388.8,476.1 385.0,473.8 382.5,471.0 C380.0,468.2 378.3,465.0 377.2,461.0 C376.1,457.0 375.8,451.9 375.6,447.0 C375.4,442.1 375.3,435.5 376.1,431.5 C376.9,427.5 380.0,427.1 380.4,423.0 C380.8,418.9 379.2,412.1 378.3,406.8 C377.4,401.5 376.3,395.3 375.2,391.0 C374.1,386.7 372.9,383.9 371.5,381.0 C370.1,378.1 368.8,375.6 366.8,373.4 C364.8,371.2 362.0,369.1 359.3,368.0 C356.6,366.9 353.4,366.7 350.7,366.9 C348.0,367.1 345.9,367.9 343.0,369.3 C340.1,370.7 336.2,373.1 333.3,375.4 C330.4,377.7 328.5,379.8 325.8,382.9 C323.1,385.9 320.4,389.4 317.2,393.7 C314.0,398.0 309.9,404.1 306.5,408.7 C303.1,413.2 299.9,417.3 297.0,421.0 C294.1,424.7 291.5,428.5 289.0,431.0 C286.5,433.5 284.4,434.8 282.0,436.0 C279.6,437.2 277.4,438.1 274.4,438.2 C271.3,438.3 266.9,437.8 263.7,436.6 C260.5,435.4 257.4,433.4 255.1,431.2 C252.8,429.0 250.9,426.4 249.7,423.7 C248.5,421.0 248.1,417.8 248.1,415.1 C248.1,412.4 249.4,408.9 249.7,407.6 L249.7,407.6 C248.4,408.1 245.2,409.4 242.2,410.3 C239.2,411.2 235.1,412.6 231.5,413.0 C227.9,413.4 223.0,413.1 220.7,412.4 C218.4,411.7 218.0,409.3 217.5,408.7Z" fill="none" stroke="#120808" stroke-width="1.9" stroke-linejoin="round"/>
<path d="M284.4,386.6 C284.9,387.5 286.2,390.9 287.6,392.0 C289.0,393.1 290.9,393.6 293.0,393.0 C295.1,392.4 298.2,390.4 300.5,388.7 C302.8,387.0 303.7,385.5 306.5,382.9 C309.3,380.3 313.6,376.5 317.2,373.3 C320.8,370.1 324.4,366.1 328.0,363.6 C331.6,361.1 335.1,359.6 338.7,358.2 C342.3,356.8 345.6,355.7 349.4,355.5 C353.2,355.3 358.1,355.6 361.5,357.2 C364.9,358.8 367.5,361.6 370.0,364.8 C372.5,368.0 374.9,372.7 376.5,376.6 C378.1,380.5 379.2,386.1 379.7,388.0" stroke="#2a1a00" stroke-width="5.4" fill="none" stroke-linecap="round"/>
<path d="M284.4,386.6 C284.9,387.5 286.2,390.9 287.6,392.0 C289.0,393.1 290.9,393.6 293.0,393.0 C295.1,392.4 298.2,390.4 300.5,388.7 C302.8,387.0 303.7,385.5 306.5,382.9 C309.3,380.3 313.6,376.5 317.2,373.3 C320.8,370.1 324.4,366.1 328.0,363.6 C331.6,361.1 335.1,359.6 338.7,358.2 C342.3,356.8 345.6,355.7 349.4,355.5 C353.2,355.3 358.1,355.6 361.5,357.2 C364.9,358.8 367.5,361.6 370.0,364.8 C372.5,368.0 374.9,372.7 376.5,376.6 C378.1,380.5 379.2,386.1 379.7,388.0" stroke="#fcd530" stroke-width="4.4" fill="none" stroke-linecap="round"/>
<path d="M379.7,388.0 C379.1,389.4 378.0,394.0 376.1,396.1 C374.2,398.2 370.6,399.3 368.6,400.4 C366.6,401.5 365.0,402.2 364.3,402.6" stroke="#111" stroke-width="6.2" fill="none" stroke-dasharray="3.5 2.5"/>
<path d="M379.7,388.0 C379.1,389.4 378.0,394.0 376.1,396.1 C374.2,398.2 370.6,399.3 368.6,400.4 C366.6,401.5 365.0,402.2 364.3,402.6" stroke="#fcd530" stroke-width="3.6" fill="none"/>
<path d="M461.5,414.2 C466.8,419.0 487.8,438.2 493.0,443.0" stroke="#111" stroke-width="7.0" fill="none" stroke-dasharray="3.5 2.5"/>
<path d="M461.5,414.2 C466.8,419.0 487.8,438.2 493.0,443.0" stroke="#fcd530" stroke-width="4.4" fill="none"/>
<clipPath id="clip4"><path d="M441.5,488.3 C441.8,487.2 440.8,484.8 443.2,481.5 C445.6,478.2 451.5,472.5 456.1,468.5 C460.7,464.5 465.8,461.5 471.0,457.5 C476.2,453.5 482.4,448.2 487.5,444.5 C492.6,440.8 497.8,437.5 501.5,435.0 C505.2,432.5 506.6,432.8 510.0,429.5 C513.5,426.2 517.5,419.7 522.2,415.0 C526.9,410.3 533.0,406.4 538.3,401.5 C543.6,396.6 549.2,390.4 554.0,385.5 C558.8,380.6 562.6,376.1 567.0,372.0 C571.4,367.9 576.3,363.8 580.5,361.2 C584.7,358.6 588.5,357.1 592.2,356.1 C596.0,355.1 599.4,355.2 603.0,355.0 C606.6,354.8 610.1,354.8 613.7,355.0 C617.3,355.2 621.6,355.8 624.4,356.0 C627.2,356.2 627.9,355.6 630.7,356.4 C633.6,357.2 637.9,358.4 641.5,360.7 C645.1,363.0 649.0,367.0 652.2,370.4 C655.4,373.8 658.1,377.3 660.8,381.1 C663.5,384.9 666.0,388.7 668.3,393.0 C670.6,397.3 672.8,401.9 674.8,406.9 C676.8,411.9 678.7,418.5 680.1,423.0 C681.5,427.5 682.0,429.9 683.0,434.0 C684.0,438.1 685.0,443.1 686.2,447.9 C687.4,452.7 689.0,456.8 690.0,463.0 C691.0,469.2 691.4,477.8 692.3,485.0 C693.2,492.2 694.4,499.0 695.5,506.1 C696.6,513.2 698.0,521.3 698.7,527.6 C699.4,533.9 699.3,540.5 699.8,543.7 C700.3,547.0 700.3,546.7 701.9,547.1 C703.5,547.5 706.9,545.6 709.4,546.1 C711.9,546.6 715.2,547.9 717.0,550.4 C718.8,552.9 719.7,556.6 720.2,561.1 C720.7,565.6 720.6,571.3 720.2,577.2 C719.8,583.1 719.1,591.1 718.0,596.5 C716.9,601.9 715.5,606.0 713.7,609.4 C711.9,612.8 709.8,615.2 707.3,617.0 C704.8,618.8 701.6,619.9 698.7,620.2 C695.8,620.6 692.6,620.0 690.1,619.1 C687.6,618.2 685.0,616.8 683.7,614.8 C682.5,612.8 683.2,609.3 682.6,607.3 C682.0,605.3 680.4,603.7 680.0,603.0 L677.2,607.3 C677.2,608.5 677.6,612.6 677.2,614.8 C676.9,616.9 676.5,619.5 675.1,620.2 C673.7,620.9 670.9,620.4 668.6,619.1 C666.3,617.9 663.4,615.6 661.1,612.7 C658.8,609.8 656.5,606.0 654.7,601.9 C652.9,597.8 651.4,593.3 650.4,588.0 C649.4,582.7 649.1,575.6 648.8,570.0 C648.4,564.4 648.8,560.6 648.3,554.4 C647.8,548.2 647.0,540.1 646.1,533.0 C645.2,525.9 644.0,518.7 642.9,511.5 C641.8,504.3 640.7,497.2 639.5,490.0 C638.3,482.8 636.9,474.1 635.8,468.3 C634.6,462.5 633.9,459.9 632.6,455.4 C631.4,450.9 629.9,446.0 628.3,441.5 C626.7,437.0 625.0,432.2 622.9,428.6 C620.8,425.0 617.8,421.7 615.4,420.0 C613.0,418.3 611.0,418.6 608.3,418.4 C605.6,418.2 602.0,418.6 599.0,419.0 C596.0,419.4 595.3,418.2 590.5,421.0 C585.7,423.8 577.1,429.8 570.4,435.8 C563.7,441.8 555.3,451.6 550.3,457.2 C545.3,462.8 543.3,466.4 540.2,469.7 C537.1,473.0 534.8,474.3 531.6,477.2 C528.4,480.1 524.4,484.2 520.8,486.9 C517.2,489.6 513.7,492.0 510.1,493.4 C506.5,494.8 503.0,495.3 499.4,495.5 C495.8,495.7 492.0,495.1 488.6,494.4 C485.2,493.7 481.5,492.8 479.0,491.2 C476.5,489.6 474.7,486.9 473.6,484.8 C472.5,482.7 472.5,480.5 472.5,478.3 C472.5,476.1 473.4,473.0 473.6,471.9 L473.6,471.9 C471.4,473.2 464.6,477.3 460.1,480.0 C455.6,482.7 449.5,486.6 446.4,488.0 C443.3,489.4 442.3,488.2 441.5,488.3Z"/></clipPath>
<path d="M441.5,488.3 C441.8,487.2 440.8,484.8 443.2,481.5 C445.6,478.2 451.5,472.5 456.1,468.5 C460.7,464.5 465.8,461.5 471.0,457.5 C476.2,453.5 482.4,448.2 487.5,444.5 C492.6,440.8 497.8,437.5 501.5,435.0 C505.2,432.5 506.6,432.8 510.0,429.5 C513.5,426.2 517.5,419.7 522.2,415.0 C526.9,410.3 533.0,406.4 538.3,401.5 C543.6,396.6 549.2,390.4 554.0,385.5 C558.8,380.6 562.6,376.1 567.0,372.0 C571.4,367.9 576.3,363.8 580.5,361.2 C584.7,358.6 588.5,357.1 592.2,356.1 C596.0,355.1 599.4,355.2 603.0,355.0 C606.6,354.8 610.1,354.8 613.7,355.0 C617.3,355.2 621.6,355.8 624.4,356.0 C627.2,356.2 627.9,355.6 630.7,356.4 C633.6,357.2 637.9,358.4 641.5,360.7 C645.1,363.0 649.0,367.0 652.2,370.4 C655.4,373.8 658.1,377.3 660.8,381.1 C663.5,384.9 666.0,388.7 668.3,393.0 C670.6,397.3 672.8,401.9 674.8,406.9 C676.8,411.9 678.7,418.5 680.1,423.0 C681.5,427.5 682.0,429.9 683.0,434.0 C684.0,438.1 685.0,443.1 686.2,447.9 C687.4,452.7 689.0,456.8 690.0,463.0 C691.0,469.2 691.4,477.8 692.3,485.0 C693.2,492.2 694.4,499.0 695.5,506.1 C696.6,513.2 698.0,521.3 698.7,527.6 C699.4,533.9 699.3,540.5 699.8,543.7 C700.3,547.0 700.3,546.7 701.9,547.1 C703.5,547.5 706.9,545.6 709.4,546.1 C711.9,546.6 715.2,547.9 717.0,550.4 C718.8,552.9 719.7,556.6 720.2,561.1 C720.7,565.6 720.6,571.3 720.2,577.2 C719.8,583.1 719.1,591.1 718.0,596.5 C716.9,601.9 715.5,606.0 713.7,609.4 C711.9,612.8 709.8,615.2 707.3,617.0 C704.8,618.8 701.6,619.9 698.7,620.2 C695.8,620.6 692.6,620.0 690.1,619.1 C687.6,618.2 685.0,616.8 683.7,614.8 C682.5,612.8 683.2,609.3 682.6,607.3 C682.0,605.3 680.4,603.7 680.0,603.0 L677.2,607.3 C677.2,608.5 677.6,612.6 677.2,614.8 C676.9,616.9 676.5,619.5 675.1,620.2 C673.7,620.9 670.9,620.4 668.6,619.1 C666.3,617.9 663.4,615.6 661.1,612.7 C658.8,609.8 656.5,606.0 654.7,601.9 C652.9,597.8 651.4,593.3 650.4,588.0 C649.4,582.7 649.1,575.6 648.8,570.0 C648.4,564.4 648.8,560.6 648.3,554.4 C647.8,548.2 647.0,540.1 646.1,533.0 C645.2,525.9 644.0,518.7 642.9,511.5 C641.8,504.3 640.7,497.2 639.5,490.0 C638.3,482.8 636.9,474.1 635.8,468.3 C634.6,462.5 633.9,459.9 632.6,455.4 C631.4,450.9 629.9,446.0 628.3,441.5 C626.7,437.0 625.0,432.2 622.9,428.6 C620.8,425.0 617.8,421.7 615.4,420.0 C613.0,418.3 611.0,418.6 608.3,418.4 C605.6,418.2 602.0,418.6 599.0,419.0 C596.0,419.4 595.3,418.2 590.5,421.0 C585.7,423.8 577.1,429.8 570.4,435.8 C563.7,441.8 555.3,451.6 550.3,457.2 C545.3,462.8 543.3,466.4 540.2,469.7 C537.1,473.0 534.8,474.3 531.6,477.2 C528.4,480.1 524.4,484.2 520.8,486.9 C517.2,489.6 513.7,492.0 510.1,493.4 C506.5,494.8 503.0,495.3 499.4,495.5 C495.8,495.7 492.0,495.1 488.6,494.4 C485.2,493.7 481.5,492.8 479.0,491.2 C476.5,489.6 474.7,486.9 473.6,484.8 C472.5,482.7 472.5,480.5 472.5,478.3 C472.5,476.1 473.4,473.0 473.6,471.9 L473.6,471.9 C471.4,473.2 464.6,477.3 460.1,480.0 C455.6,482.7 449.5,486.6 446.4,488.0 C443.3,489.4 442.3,488.2 441.5,488.3Z" fill="url(#pShaftL4)"/>
<g clip-path="url(#clip4)">
<path d="M420.0,370.0 L532.0,370.0 L542.0,400.0 L540.0,422.0 L420.0,520.0Z" fill="url(#pCrusL)"/>
<circle cx="544.7" cy="403.4" r="3" fill="#0d0000"/>
<circle cx="537.2" cy="410.4" r="3" fill="#0d0000"/>
</g>
<path d="M473.6,471.9 C475.8,470.6 482.2,467.1 486.5,464.4 C490.8,461.7 496.0,458.2 499.4,455.8 C502.8,453.4 504.1,452.6 507.0,450.0 C509.9,447.4 513.4,443.7 516.8,440.1 C520.2,436.5 524.0,431.9 527.6,428.3 C531.2,424.7 534.7,421.7 538.3,418.7 C541.9,415.7 545.5,413.2 549.1,410.1 C552.7,407.0 556.4,402.9 560.0,400.0 C563.6,397.1 566.9,395.4 570.5,393.0 C574.1,390.6 577.9,387.4 581.5,385.5 C585.1,383.6 588.6,383.0 592.2,381.9 C595.8,380.8 599.4,379.4 603.0,378.7 C606.6,378.0 610.9,377.8 613.7,377.6 C616.5,377.4 617.2,377.3 620.0,377.5 C622.8,377.7 627.5,377.7 630.7,379.0 C633.9,380.3 636.8,382.7 639.3,385.4 C641.8,388.1 643.8,391.3 645.8,395.1 C647.8,398.9 649.5,403.7 651.1,408.0 C652.7,412.3 654.2,417.1 655.4,420.9 C656.6,424.7 657.1,426.9 658.3,430.7 C659.5,434.5 661.2,439.1 662.6,443.6 C664.0,448.1 665.6,453.1 666.9,457.6 C668.1,462.1 668.9,465.1 670.1,470.5 C671.3,475.9 672.6,484.1 674.0,490.0 C675.4,495.9 676.7,499.8 678.3,506.1 C679.9,512.4 682.1,520.4 683.7,527.6 C685.3,534.8 686.9,542.9 688.0,549.1 C689.1,555.3 690.1,561.2 690.5,565.0 C690.9,568.8 690.9,568.9 690.1,571.8 C689.3,574.7 687.0,578.1 685.8,582.6 C684.5,587.1 683.6,595.3 682.6,598.7 C681.6,602.1 680.4,602.3 680.0,603.0 L676.1,594.4 C674.5,594.0 669.9,592.7 666.5,592.2 C663.1,591.7 658.4,591.9 655.7,591.2 C653.0,590.5 651.3,588.5 650.4,588.0 L648.8,570.0 C648.7,567.4 648.8,560.6 648.3,554.4 C647.8,548.2 647.0,540.1 646.1,533.0 C645.2,525.9 644.0,518.7 642.9,511.5 C641.8,504.3 640.7,497.2 639.5,490.0 C638.3,482.8 636.9,474.1 635.8,468.3 C634.6,462.5 633.9,459.9 632.6,455.4 C631.4,450.9 629.9,446.0 628.3,441.5 C626.7,437.0 625.0,432.2 622.9,428.6 C620.8,425.0 617.8,421.7 615.4,420.0 C613.0,418.3 611.0,418.6 608.3,418.4 C605.6,418.2 602.0,418.6 599.0,419.0 C596.0,419.4 595.3,418.2 590.5,421.0 C585.7,423.8 577.1,429.8 570.4,435.8 C563.7,441.8 555.3,451.6 550.3,457.2 C545.3,462.8 543.3,466.4 540.2,469.7 C537.1,473.0 534.8,474.3 531.6,477.2 C528.4,480.1 524.4,484.2 520.8,486.9 C517.2,489.6 513.7,492.0 510.1,493.4 C506.5,494.8 503.0,495.3 499.4,495.5 C495.8,495.7 492.0,495.1 488.6,494.4 C485.2,493.7 481.5,492.8 479.0,491.2 C476.5,489.6 474.7,486.9 473.6,484.8 C472.5,482.7 472.5,480.5 472.5,478.3 C472.5,476.1 473.4,473.0 473.6,471.9Z" fill="url(#pBulbL)" stroke="#120808" stroke-width="1.7"/>
<path d="M650.4,588.0 C651.3,588.5 653.0,590.5 655.7,591.2 C658.4,591.9 663.1,591.7 666.5,592.2 C669.9,592.7 674.3,591.9 676.1,594.4 C677.9,596.9 677.0,603.9 677.2,607.3 C677.4,610.7 677.6,612.6 677.2,614.8 C676.9,616.9 676.5,619.5 675.1,620.2 C673.7,620.9 670.9,620.4 668.6,619.1 C666.3,617.9 663.4,615.6 661.1,612.7 C658.8,609.8 656.5,606.0 654.7,601.9 C652.9,597.8 651.1,590.3 650.4,588.0Z" fill="url(#pGlansL)" stroke="#120808" stroke-width="1.3"/>
<path d="M690.1,571.8 C690.6,571.4 692.4,571.5 693.3,569.7 C694.2,567.9 694.8,564.2 695.5,561.1 C696.2,558.0 696.5,553.7 697.6,551.4 C698.7,549.1 699.9,548.0 701.9,547.1 C703.9,546.2 706.9,545.6 709.4,546.1 C711.9,546.6 715.2,547.9 717.0,550.4 C718.8,552.9 719.7,556.6 720.2,561.1 C720.7,565.6 720.6,571.3 720.2,577.2 C719.8,583.1 719.1,591.1 718.0,596.5 C716.9,601.9 715.5,606.0 713.7,609.4 C711.9,612.8 709.8,615.2 707.3,617.0 C704.8,618.8 701.6,619.9 698.7,620.2 C695.8,620.6 692.6,620.0 690.1,619.1 C687.6,618.2 685.0,616.8 683.7,614.8 C682.5,612.8 682.8,610.0 682.6,607.3 C682.4,604.6 682.1,602.8 682.6,598.7 C683.1,594.6 684.5,587.1 685.8,582.6 C687.0,578.1 689.4,573.6 690.1,571.8Z" fill="url(#pGlansL)" stroke="#120808" stroke-width="1.3"/>
<clipPath id="hr4_0"><path d="M630.0,550.0 L660.0,550.0 L662.0,600.0 L680.0,625.0 L640.0,625.0Z"/></clipPath>
<g clip-path="url(#clip4)"><g clip-path="url(#hr4_0)"><path d="M441.5,488.3 C441.8,487.2 440.8,484.8 443.2,481.5 C445.6,478.2 451.5,472.5 456.1,468.5 C460.7,464.5 465.8,461.5 471.0,457.5 C476.2,453.5 482.4,448.2 487.5,444.5 C492.6,440.8 497.8,437.5 501.5,435.0 C505.2,432.5 506.6,432.8 510.0,429.5 C513.5,426.2 517.5,419.7 522.2,415.0 C526.9,410.3 533.0,406.4 538.3,401.5 C543.6,396.6 549.2,390.4 554.0,385.5 C558.8,380.6 562.6,376.1 567.0,372.0 C571.4,367.9 576.3,363.8 580.5,361.2 C584.7,358.6 588.5,357.1 592.2,356.1 C596.0,355.1 599.4,355.2 603.0,355.0 C606.6,354.8 610.1,354.8 613.7,355.0 C617.3,355.2 621.6,355.8 624.4,356.0 C627.2,356.2 627.9,355.6 630.7,356.4 C633.6,357.2 637.9,358.4 641.5,360.7 C645.1,363.0 649.0,367.0 652.2,370.4 C655.4,373.8 658.1,377.3 660.8,381.1 C663.5,384.9 666.0,388.7 668.3,393.0 C670.6,397.3 672.8,401.9 674.8,406.9 C676.8,411.9 678.7,418.5 680.1,423.0 C681.5,427.5 682.0,429.9 683.0,434.0 C684.0,438.1 685.0,443.1 686.2,447.9 C687.4,452.7 689.0,456.8 690.0,463.0 C691.0,469.2 691.4,477.8 692.3,485.0 C693.2,492.2 694.4,499.0 695.5,506.1 C696.6,513.2 698.0,521.3 698.7,527.6 C699.4,533.9 699.3,540.5 699.8,543.7 C700.3,547.0 700.3,546.7 701.9,547.1 C703.5,547.5 706.9,545.6 709.4,546.1 C711.9,546.6 715.2,547.9 717.0,550.4 C718.8,552.9 719.7,556.6 720.2,561.1 C720.7,565.6 720.6,571.3 720.2,577.2 C719.8,583.1 719.1,591.1 718.0,596.5 C716.9,601.9 715.5,606.0 713.7,609.4 C711.9,612.8 709.8,615.2 707.3,617.0 C704.8,618.8 701.6,619.9 698.7,620.2 C695.8,620.6 692.6,620.0 690.1,619.1 C687.6,618.2 685.0,616.8 683.7,614.8 C682.5,612.8 683.2,609.3 682.6,607.3 C682.0,605.3 680.4,603.7 680.0,603.0 L677.2,607.3 C677.2,608.5 677.6,612.6 677.2,614.8 C676.9,616.9 676.5,619.5 675.1,620.2 C673.7,620.9 670.9,620.4 668.6,619.1 C666.3,617.9 663.4,615.6 661.1,612.7 C658.8,609.8 656.5,606.0 654.7,601.9 C652.9,597.8 651.4,593.3 650.4,588.0 C649.4,582.7 649.1,575.6 648.8,570.0 C648.4,564.4 648.8,560.6 648.3,554.4 C647.8,548.2 647.0,540.1 646.1,533.0 C645.2,525.9 644.0,518.7 642.9,511.5 C641.8,504.3 640.7,497.2 639.5,490.0 C638.3,482.8 636.9,474.1 635.8,468.3 C634.6,462.5 633.9,459.9 632.6,455.4 C631.4,450.9 629.9,446.0 628.3,441.5 C626.7,437.0 625.0,432.2 622.9,428.6 C620.8,425.0 617.8,421.7 615.4,420.0 C613.0,418.3 611.0,418.6 608.3,418.4 C605.6,418.2 602.0,418.6 599.0,419.0 C596.0,419.4 595.3,418.2 590.5,421.0 C585.7,423.8 577.1,429.8 570.4,435.8 C563.7,441.8 555.3,451.6 550.3,457.2 C545.3,462.8 543.3,466.4 540.2,469.7 C537.1,473.0 534.8,474.3 531.6,477.2 C528.4,480.1 524.4,484.2 520.8,486.9 C517.2,489.6 513.7,492.0 510.1,493.4 C506.5,494.8 503.0,495.3 499.4,495.5 C495.8,495.7 492.0,495.1 488.6,494.4 C485.2,493.7 481.5,492.8 479.0,491.2 C476.5,489.6 474.7,486.9 473.6,484.8 C472.5,482.7 472.5,480.5 472.5,478.3 C472.5,476.1 473.4,473.0 473.6,471.9 L473.6,471.9 C471.4,473.2 464.6,477.3 460.1,480.0 C455.6,482.7 449.5,486.6 446.4,488.0 C443.3,489.4 442.3,488.2 441.5,488.3Z" stroke="url(#pHoodL)" stroke-width="8" fill="none"/></g></g>
<clipPath id="hr4_1"><path d="M697.0,540.0 L735.0,540.0 L735.0,630.0 L690.0,630.0 L705.0,610.0 L712.0,560.0Z"/></clipPath>
<g clip-path="url(#clip4)"><g clip-path="url(#hr4_1)"><path d="M441.5,488.3 C441.8,487.2 440.8,484.8 443.2,481.5 C445.6,478.2 451.5,472.5 456.1,468.5 C460.7,464.5 465.8,461.5 471.0,457.5 C476.2,453.5 482.4,448.2 487.5,444.5 C492.6,440.8 497.8,437.5 501.5,435.0 C505.2,432.5 506.6,432.8 510.0,429.5 C513.5,426.2 517.5,419.7 522.2,415.0 C526.9,410.3 533.0,406.4 538.3,401.5 C543.6,396.6 549.2,390.4 554.0,385.5 C558.8,380.6 562.6,376.1 567.0,372.0 C571.4,367.9 576.3,363.8 580.5,361.2 C584.7,358.6 588.5,357.1 592.2,356.1 C596.0,355.1 599.4,355.2 603.0,355.0 C606.6,354.8 610.1,354.8 613.7,355.0 C617.3,355.2 621.6,355.8 624.4,356.0 C627.2,356.2 627.9,355.6 630.7,356.4 C633.6,357.2 637.9,358.4 641.5,360.7 C645.1,363.0 649.0,367.0 652.2,370.4 C655.4,373.8 658.1,377.3 660.8,381.1 C663.5,384.9 666.0,388.7 668.3,393.0 C670.6,397.3 672.8,401.9 674.8,406.9 C676.8,411.9 678.7,418.5 680.1,423.0 C681.5,427.5 682.0,429.9 683.0,434.0 C684.0,438.1 685.0,443.1 686.2,447.9 C687.4,452.7 689.0,456.8 690.0,463.0 C691.0,469.2 691.4,477.8 692.3,485.0 C693.2,492.2 694.4,499.0 695.5,506.1 C696.6,513.2 698.0,521.3 698.7,527.6 C699.4,533.9 699.3,540.5 699.8,543.7 C700.3,547.0 700.3,546.7 701.9,547.1 C703.5,547.5 706.9,545.6 709.4,546.1 C711.9,546.6 715.2,547.9 717.0,550.4 C718.8,552.9 719.7,556.6 720.2,561.1 C720.7,565.6 720.6,571.3 720.2,577.2 C719.8,583.1 719.1,591.1 718.0,596.5 C716.9,601.9 715.5,606.0 713.7,609.4 C711.9,612.8 709.8,615.2 707.3,617.0 C704.8,618.8 701.6,619.9 698.7,620.2 C695.8,620.6 692.6,620.0 690.1,619.1 C687.6,618.2 685.0,616.8 683.7,614.8 C682.5,612.8 683.2,609.3 682.6,607.3 C682.0,605.3 680.4,603.7 680.0,603.0 L677.2,607.3 C677.2,608.5 677.6,612.6 677.2,614.8 C676.9,616.9 676.5,619.5 675.1,620.2 C673.7,620.9 670.9,620.4 668.6,619.1 C666.3,617.9 663.4,615.6 661.1,612.7 C658.8,609.8 656.5,606.0 654.7,601.9 C652.9,597.8 651.4,593.3 650.4,588.0 C649.4,582.7 649.1,575.6 648.8,570.0 C648.4,564.4 648.8,560.6 648.3,554.4 C647.8,548.2 647.0,540.1 646.1,533.0 C645.2,525.9 644.0,518.7 642.9,511.5 C641.8,504.3 640.7,497.2 639.5,490.0 C638.3,482.8 636.9,474.1 635.8,468.3 C634.6,462.5 633.9,459.9 632.6,455.4 C631.4,450.9 629.9,446.0 628.3,441.5 C626.7,437.0 625.0,432.2 622.9,428.6 C620.8,425.0 617.8,421.7 615.4,420.0 C613.0,418.3 611.0,418.6 608.3,418.4 C605.6,418.2 602.0,418.6 599.0,419.0 C596.0,419.4 595.3,418.2 590.5,421.0 C585.7,423.8 577.1,429.8 570.4,435.8 C563.7,441.8 555.3,451.6 550.3,457.2 C545.3,462.8 543.3,466.4 540.2,469.7 C537.1,473.0 534.8,474.3 531.6,477.2 C528.4,480.1 524.4,484.2 520.8,486.9 C517.2,489.6 513.7,492.0 510.1,493.4 C506.5,494.8 503.0,495.3 499.4,495.5 C495.8,495.7 492.0,495.1 488.6,494.4 C485.2,493.7 481.5,492.8 479.0,491.2 C476.5,489.6 474.7,486.9 473.6,484.8 C472.5,482.7 472.5,480.5 472.5,478.3 C472.5,476.1 473.4,473.0 473.6,471.9 L473.6,471.9 C471.4,473.2 464.6,477.3 460.1,480.0 C455.6,482.7 449.5,486.6 446.4,488.0 C443.3,489.4 442.3,488.2 441.5,488.3Z" stroke="url(#pHoodL)" stroke-width="8" fill="none"/></g></g>
<path d="M441.5,488.3 C441.8,487.2 440.8,484.8 443.2,481.5 C445.6,478.2 451.5,472.5 456.1,468.5 C460.7,464.5 465.8,461.5 471.0,457.5 C476.2,453.5 482.4,448.2 487.5,444.5 C492.6,440.8 497.8,437.5 501.5,435.0 C505.2,432.5 506.6,432.8 510.0,429.5 C513.5,426.2 517.5,419.7 522.2,415.0 C526.9,410.3 533.0,406.4 538.3,401.5 C543.6,396.6 549.2,390.4 554.0,385.5 C558.8,380.6 562.6,376.1 567.0,372.0 C571.4,367.9 576.3,363.8 580.5,361.2 C584.7,358.6 588.5,357.1 592.2,356.1 C596.0,355.1 599.4,355.2 603.0,355.0 C606.6,354.8 610.1,354.8 613.7,355.0 C617.3,355.2 621.6,355.8 624.4,356.0 C627.2,356.2 627.9,355.6 630.7,356.4 C633.6,357.2 637.9,358.4 641.5,360.7 C645.1,363.0 649.0,367.0 652.2,370.4 C655.4,373.8 658.1,377.3 660.8,381.1 C663.5,384.9 666.0,388.7 668.3,393.0 C670.6,397.3 672.8,401.9 674.8,406.9 C676.8,411.9 678.7,418.5 680.1,423.0 C681.5,427.5 682.0,429.9 683.0,434.0 C684.0,438.1 685.0,443.1 686.2,447.9 C687.4,452.7 689.0,456.8 690.0,463.0 C691.0,469.2 691.4,477.8 692.3,485.0 C693.2,492.2 694.4,499.0 695.5,506.1 C696.6,513.2 698.0,521.3 698.7,527.6 C699.4,533.9 699.3,540.5 699.8,543.7 C700.3,547.0 700.3,546.7 701.9,547.1 C703.5,547.5 706.9,545.6 709.4,546.1 C711.9,546.6 715.2,547.9 717.0,550.4 C718.8,552.9 719.7,556.6 720.2,561.1 C720.7,565.6 720.6,571.3 720.2,577.2 C719.8,583.1 719.1,591.1 718.0,596.5 C716.9,601.9 715.5,606.0 713.7,609.4 C711.9,612.8 709.8,615.2 707.3,617.0 C704.8,618.8 701.6,619.9 698.7,620.2 C695.8,620.6 692.6,620.0 690.1,619.1 C687.6,618.2 685.0,616.8 683.7,614.8 C682.5,612.8 683.2,609.3 682.6,607.3 C682.0,605.3 680.4,603.7 680.0,603.0 L677.2,607.3 C677.2,608.5 677.6,612.6 677.2,614.8 C676.9,616.9 676.5,619.5 675.1,620.2 C673.7,620.9 670.9,620.4 668.6,619.1 C666.3,617.9 663.4,615.6 661.1,612.7 C658.8,609.8 656.5,606.0 654.7,601.9 C652.9,597.8 651.4,593.3 650.4,588.0 C649.4,582.7 649.1,575.6 648.8,570.0 C648.4,564.4 648.8,560.6 648.3,554.4 C647.8,548.2 647.0,540.1 646.1,533.0 C645.2,525.9 644.0,518.7 642.9,511.5 C641.8,504.3 640.7,497.2 639.5,490.0 C638.3,482.8 636.9,474.1 635.8,468.3 C634.6,462.5 633.9,459.9 632.6,455.4 C631.4,450.9 629.9,446.0 628.3,441.5 C626.7,437.0 625.0,432.2 622.9,428.6 C620.8,425.0 617.8,421.7 615.4,420.0 C613.0,418.3 611.0,418.6 608.3,418.4 C605.6,418.2 602.0,418.6 599.0,419.0 C596.0,419.4 595.3,418.2 590.5,421.0 C585.7,423.8 577.1,429.8 570.4,435.8 C563.7,441.8 555.3,451.6 550.3,457.2 C545.3,462.8 543.3,466.4 540.2,469.7 C537.1,473.0 534.8,474.3 531.6,477.2 C528.4,480.1 524.4,484.2 520.8,486.9 C517.2,489.6 513.7,492.0 510.1,493.4 C506.5,494.8 503.0,495.3 499.4,495.5 C495.8,495.7 492.0,495.1 488.6,494.4 C485.2,493.7 481.5,492.8 479.0,491.2 C476.5,489.6 474.7,486.9 473.6,484.8 C472.5,482.7 472.5,480.5 472.5,478.3 C472.5,476.1 473.4,473.0 473.6,471.9 L473.6,471.9 C471.4,473.2 464.6,477.3 460.1,480.0 C455.6,482.7 449.5,486.6 446.4,488.0 C443.3,489.4 442.3,488.2 441.5,488.3Z" fill="none" stroke="#120808" stroke-width="1.9" stroke-linejoin="round"/>
<path d="M506.9,451.5 C508.0,452.0 510.4,454.3 513.3,454.7 C516.2,455.1 520.5,454.7 524.1,453.6 C527.7,452.5 531.3,450.6 534.8,448.3 C538.3,446.0 540.8,443.6 545.0,439.7 C549.2,435.8 555.6,429.1 559.8,425.1 C564.0,421.2 567.3,418.6 570.0,416.0 C572.7,413.4 573.3,412.3 576.1,409.8 C578.9,407.3 583.2,403.7 586.8,401.2 C590.4,398.7 594.0,396.2 597.6,394.8 C601.2,393.4 605.3,392.8 608.3,392.6 C611.3,392.4 613.1,392.4 615.8,393.7 C618.5,394.9 621.5,397.4 624.4,400.1 C627.3,402.8 630.7,406.7 633.0,409.8 C635.3,412.9 636.5,415.1 638.0,418.5 C639.5,421.9 640.1,424.6 641.7,430.0 C643.3,435.4 645.7,445.2 647.6,451.1 C649.5,457.0 651.6,460.6 653.0,465.1 C654.4,469.6 655.1,473.4 656.2,478.0 C657.3,482.6 658.6,487.4 659.4,493.0 C660.2,498.6 660.1,504.8 661.1,511.5 C662.1,518.2 663.8,525.9 665.4,533.0 C667.0,540.1 669.4,548.2 670.8,554.4 C672.2,560.6 673.1,564.8 674.0,570.0 C674.9,575.2 675.2,579.6 676.1,585.8 C677.0,592.0 678.9,603.7 679.4,607.3" stroke="#2a1a00" stroke-width="5.6" fill="none" stroke-linecap="round"/>
<path d="M506.9,451.5 C508.0,452.0 510.4,454.3 513.3,454.7 C516.2,455.1 520.5,454.7 524.1,453.6 C527.7,452.5 531.3,450.6 534.8,448.3 C538.3,446.0 540.8,443.6 545.0,439.7 C549.2,435.8 555.6,429.1 559.8,425.1 C564.0,421.2 567.3,418.6 570.0,416.0 C572.7,413.4 573.3,412.3 576.1,409.8 C578.9,407.3 583.2,403.7 586.8,401.2 C590.4,398.7 594.0,396.2 597.6,394.8 C601.2,393.4 605.3,392.8 608.3,392.6 C611.3,392.4 613.1,392.4 615.8,393.7 C618.5,394.9 621.5,397.4 624.4,400.1 C627.3,402.8 630.7,406.7 633.0,409.8 C635.3,412.9 636.5,415.1 638.0,418.5 C639.5,421.9 640.1,424.6 641.7,430.0 C643.3,435.4 645.7,445.2 647.6,451.1 C649.5,457.0 651.6,460.6 653.0,465.1 C654.4,469.6 655.1,473.4 656.2,478.0 C657.3,482.6 658.6,487.4 659.4,493.0 C660.2,498.6 660.1,504.8 661.1,511.5 C662.1,518.2 663.8,525.9 665.4,533.0 C667.0,540.1 669.4,548.2 670.8,554.4 C672.2,560.6 673.1,564.8 674.0,570.0 C674.9,575.2 675.2,579.6 676.1,585.8 C677.0,592.0 678.9,603.7 679.4,607.3" stroke="#fcd530" stroke-width="4.6" fill="none" stroke-linecap="round"/>
<circle cx="45.5" cy="187" r="21" fill="url(#pGlans)" stroke="#0a0a0a" stroke-width="3"/>
<circle cx="46" cy="245" r="21" fill="url(#pShaft)" stroke="#0a0a0a" stroke-width="3"/>
<circle cx="46" cy="302.6" r="21" fill="url(#pCrus)" stroke="#0a0a0a" stroke-width="3"/>
<circle cx="47.5" cy="362.7" r="21" fill="url(#pBulb)" stroke="#0a0a0a" stroke-width="3"/>
<circle cx="47.5" cy="420" r="21" fill="url(#pHood)" stroke="#0a0a0a" stroke-width="3"/>
<circle cx="47.5" cy="479" r="21" fill="#fdd22e" stroke="#0a0a0a" stroke-width="3"/>
<text x="389" y="51" font-size="25.2" font-weight="700" fill="#111" textLength="185.0" lengthAdjust="spacingAndGlyphs" >HOMOLOGY of</text>
<rect x="388" y="54.8" width="193" height="1.7" fill="#111"/>
<text x="347.5" y="82" font-size="25.2" font-weight="700" fill="#111" textLength="267.5" lengthAdjust="spacingAndGlyphs" >ERECTILE STRUCTURES</text>
<rect x="347" y="85.8" width="268" height="1.7" fill="#111"/>
<text x="79" y="198.9" font-size="26.5" font-weight="700" fill="#111" textLength="82.5" lengthAdjust="spacingAndGlyphs" >GLANS</text>
<text x="78.5" y="259.3" font-size="26.5" font-weight="700" fill="#111" textLength="77.0" lengthAdjust="spacingAndGlyphs" >SHAFT</text>
<text x="79" y="313.4" font-size="26.5" font-weight="700" fill="#111" textLength="65.0" lengthAdjust="spacingAndGlyphs" >CRUS</text>
<text x="81" y="373" font-size="26.5" font-weight="700" fill="#111" textLength="74.8" lengthAdjust="spacingAndGlyphs" >BULBS</text>
<text x="81" y="417.5" font-size="26.5" font-weight="700" fill="#111" textLength="90.0" lengthAdjust="spacingAndGlyphs" >HOOD/</text>
<text x="81" y="446.3" font-size="26.5" font-weight="700" fill="#111" textLength="118.0" lengthAdjust="spacingAndGlyphs" >FORESKIN</text>
<text x="78.5" y="489.9" font-size="26.5" font-weight="700" fill="#111" textLength="111.5" lengthAdjust="spacingAndGlyphs" >URETHRA</text>
<text x="348" y="256.6" font-size="21.5" font-weight="400" fill="#111" textLength="13.5" lengthAdjust="spacingAndGlyphs" stroke="#111" stroke-width="0.35">1)</text>
<text x="579.5" y="283.5" font-size="21.5" font-weight="400" fill="#111" textLength="18.5" lengthAdjust="spacingAndGlyphs" stroke="#111" stroke-width="0.35">2)</text>
<text x="339.5" y="432.7" font-size="21.5" font-weight="400" fill="#111" textLength="18.0" lengthAdjust="spacingAndGlyphs" stroke="#111" stroke-width="0.35">3)</text>
<text x="587.5" y="485.5" font-size="21.5" font-weight="400" fill="#111" textLength="19.0" lengthAdjust="spacingAndGlyphs" stroke="#111" stroke-width="0.35">4)</text>
<text x="35" y="551.7" font-size="14.2" font-weight="400" fill="#111" textLength="390.1" lengthAdjust="spacingAndGlyphs" stroke="#111" stroke-width="0.45">* This illustration shows 4 variations and how much they</text>
<text x="35" y="568.6" font-size="14.2" font-weight="400" fill="#111" textLength="392.2" lengthAdjust="spacingAndGlyphs" stroke="#111" stroke-width="0.45">have in common. Of course there are as many variations</text>
<text x="35" y="585.5" font-size="14.2" font-weight="400" fill="#111" textLength="71.5" lengthAdjust="spacingAndGlyphs" stroke="#111" stroke-width="0.45">as people.</text>
<text x="35" y="616.5" font-size="14.2" font-weight="400" fill="#111" textLength="404.0" lengthAdjust="spacingAndGlyphs" stroke="#111" stroke-width="0.45">There are different names for the structure that developes</text>
<text x="35" y="633.2" font-size="14.2" font-weight="400" fill="#111" textLength="396.9" lengthAdjust="spacingAndGlyphs" stroke="#111" stroke-width="0.45">from the genital tubercle. People with similar structure to</text>
<text x="35" y="649.8" font-size="14.2" font-weight="400" fill="#111" textLength="380.4" lengthAdjust="spacingAndGlyphs" stroke="#111" stroke-width="0.45">the illustrations may chose different words to describe</text>
<text x="35" y="666.5" font-size="14.2" font-weight="400" fill="#111" textLength="401.2" lengthAdjust="spacingAndGlyphs" stroke="#111" stroke-width="0.45">their genitals. The gender of a person might influence the</text>
<text x="35" y="683" font-size="14.2" font-weight="400" fill="#111" textLength="323.5" lengthAdjust="spacingAndGlyphs" stroke="#111" stroke-width="0.45">way they label themselves. All labels are valid.</text>
<text x="461" y="585.6" font-size="14" font-weight="400" fill="#1a1a1a" textLength="62.5" lengthAdjust="spacingAndGlyphs" stroke="#1a1a1a" stroke-width="0.15">1) clitoris*</text>
<text x="461" y="611.7" font-size="14" font-weight="400" fill="#1a1a1a" textLength="173.0" lengthAdjust="spacingAndGlyphs" stroke="#1a1a1a" stroke-width="0.15">2) large clitoris/phallo clit*</text>
<text x="461" y="637.5" font-size="14" font-weight="400" fill="#1a1a1a" textLength="147.5" lengthAdjust="spacingAndGlyphs" stroke="#1a1a1a" stroke-width="0.15">3) hypospadias penis*</text>
<text x="461" y="663.3" font-size="14" font-weight="400" fill="#1a1a1a" textLength="59.5" lengthAdjust="spacingAndGlyphs" stroke="#1a1a1a" stroke-width="0.15">4) penis*</text>
<text x="205.5" y="729.8" font-size="14.3" font-weight="400" fill="#7a7a7a" textLength="523.0" lengthAdjust="spacingAndGlyphs" >© Illustration by Stefanie Grübl (Vielma - Vielfältige Materialien) IG: @vielma.at</text>
<text x="72" y="103.8" font-size="12.6" font-weight="400" fill="#222" textLength="88.8" lengthAdjust="spacingAndGlyphs" >www.vielma.at</text>
<text x="107" y="86.4" font-size="8.8" font-weight="400" fill="#444" textLength="90.5" lengthAdjust="spacingAndGlyphs" >Vielfältige Materialien</text>
<text x="0" y="0" font-size="8.5" font-style="italic" fill="#555" style="font-family:'Liberation Serif', serif" textLength="45" lengthAdjust="spacingAndGlyphs" transform="translate(461.5,229.5) rotate(-31)">© StefanieGrübl</text>

<g fill="none" stroke="#1f7d8c" stroke-width="2.8" stroke-linecap="round" stroke-linejoin="round">
 <path d="M76.2,30.0 C75.3,29.1 73.5,26.0 70.8,24.7 C68.1,23.4 63.9,22.0 60.1,22.0 C56.4,22.0 51.9,22.6 48.3,24.7 C44.7,26.8 40.6,30.9 38.6,34.3 C36.6,37.7 36.2,41.7 36.4,45.1 C36.6,48.5 38.1,51.4 39.7,54.7 C41.3,58.0 43.9,61.8 46.1,65.0 C48.3,68.2 50.8,71.2 53.0,74.0 C55.2,76.8 58.4,80.7 59.5,82.0"/>
 <path d="M76.2,30.0 C77.5,29.0 80.7,25.4 83.7,24.1 C86.7,22.8 90.8,22.1 94.4,22.0 C98.0,21.9 102.1,22.3 105.2,23.6 C108.3,24.9 111.0,26.9 113.0,30.0 C115.0,33.1 116.4,38.3 117.0,42.0 C117.6,45.7 117.2,48.7 116.5,52.0 C115.8,55.3 114.2,58.9 112.5,62.0 C110.8,65.1 109.2,67.2 106.5,70.5 C103.8,73.8 97.8,80.1 96.0,82.0"/>
 <path d="M76.2,30.0 C74.8,31.6 70.5,36.1 67.6,39.7 C64.7,43.3 61.2,47.8 59.0,51.5 C56.8,55.2 55.3,58.6 54.5,62.0 C53.7,65.4 53.8,69.1 54.2,72.0 C54.6,74.9 55.3,77.0 57.1,79.6 C58.9,82.2 62.0,85.8 65.1,87.7 C68.2,89.6 72.2,90.8 75.6,90.9 C79.0,91.0 82.1,90.0 85.3,88.5 C88.5,87.0 92.4,85.0 94.9,82.0 C97.5,79.0 99.7,74.0 100.6,70.8 C101.5,67.6 101.3,65.4 100.3,62.7 C99.3,60.0 96.8,58.2 94.4,54.7 C92.0,51.2 88.8,45.9 85.8,41.8 C82.8,37.7 77.8,32.0 76.2,30.0"/>
 <path d="M76.5,31.0 C75.6,32.5 72.1,36.9 71.0,40.0 C69.9,43.1 69.2,46.4 69.7,49.4 C70.2,52.4 72.6,55.6 74.0,58.0 C75.4,60.4 76.0,61.3 78.0,64.0 C80.0,66.7 83.3,71.0 86.0,74.0 C88.7,77.0 92.7,80.7 94.0,82.0"/>
 <path d="M76.5,31.0 C77.4,32.5 81.0,36.8 82.0,40.0 C83.0,43.2 83.0,47.4 82.6,50.4 C82.2,53.4 80.7,55.7 79.4,58.0 C78.1,60.3 77.1,61.5 75.0,64.0 C72.9,66.5 69.5,70.2 67.0,73.0 C64.5,75.8 61.2,79.7 60.0,81.0"/>
</g>
<g fill="none" stroke="#161616" stroke-width="3.0" stroke-linecap="round" stroke-linejoin="round">
 <path d="M106.0,41.7 C105.9,43.9 105.2,51.0 105.4,55.1 C105.6,59.2 106.5,63.6 107.4,66.5 C108.3,69.4 109.1,73.0 110.7,72.6 C112.3,72.2 114.9,67.4 116.8,63.9 C118.7,60.4 120.4,55.8 122.1,51.8 C123.8,47.8 126.0,41.7 126.8,39.7"/>
 <path d="M130.2,52.4 L127.5,70.6"/>
 <circle cx="131.2" cy="47.5" r="0.9" fill="#161616"/>
 <path d="M132.0,65.0 C132.7,63.9 134.7,60.2 136.0,58.5 C137.3,56.8 138.9,54.8 140.0,54.5 C141.1,54.2 142.4,55.4 142.3,56.5 C142.2,57.6 141.1,59.5 139.5,61.0 C137.9,62.5 134.0,64.0 133.0,65.5 C132.0,67.0 132.5,69.1 133.5,70.0 C134.5,70.9 136.9,71.7 139.0,71.0 C141.1,70.3 144.3,67.7 146.0,66.0 C147.7,64.3 148.0,63.3 149.0,61.0 C150.0,58.7 151.1,54.8 152.0,52.0 C152.9,49.2 153.8,45.2 154.5,44.0 C155.2,42.8 156.0,43.4 156.0,45.0 C156.0,46.6 155.6,50.2 154.6,53.5 C153.6,56.8 150.8,61.7 150.2,64.5 C149.6,67.3 150.1,69.5 150.9,70.4 C151.7,71.3 154.3,70.1 155.0,70.0"/>
 <path d="M160.5,52.7 C160.4,55.8 159.9,68.4 159.8,71.5"/>
 <path d="M159.8,70.0 C160.4,69.0 162.2,66.0 163.5,64.0 C164.8,62.0 167.1,57.6 167.9,57.9 C168.8,58.2 168.0,64.4 168.6,66.0 C169.2,67.6 170.4,68.6 171.6,67.5 C172.8,66.4 175.0,61.0 176.0,59.4 C177.0,57.8 177.4,56.7 177.5,57.9 C177.6,59.1 176.3,64.9 176.7,66.7 C177.1,68.5 178.3,69.4 179.7,69.0 C181.1,68.6 184.0,65.2 184.9,64.5"/>
 <path d="M184.9,64.5 C185.4,63.8 186.8,61.1 188.0,60.5 C189.2,59.9 190.8,60.3 192.0,61.0 C193.2,61.7 195.0,63.3 195.2,64.5 C195.4,65.7 194.2,67.8 193.0,68.2 C191.8,68.6 188.3,67.4 187.8,66.7 C187.3,66.0 188.7,64.0 190.0,64.0 C191.3,64.0 194.9,65.4 195.9,66.7 C196.9,68.0 195.9,71.0 195.9,71.9"/>
</g>

</svg>
</body></html>
